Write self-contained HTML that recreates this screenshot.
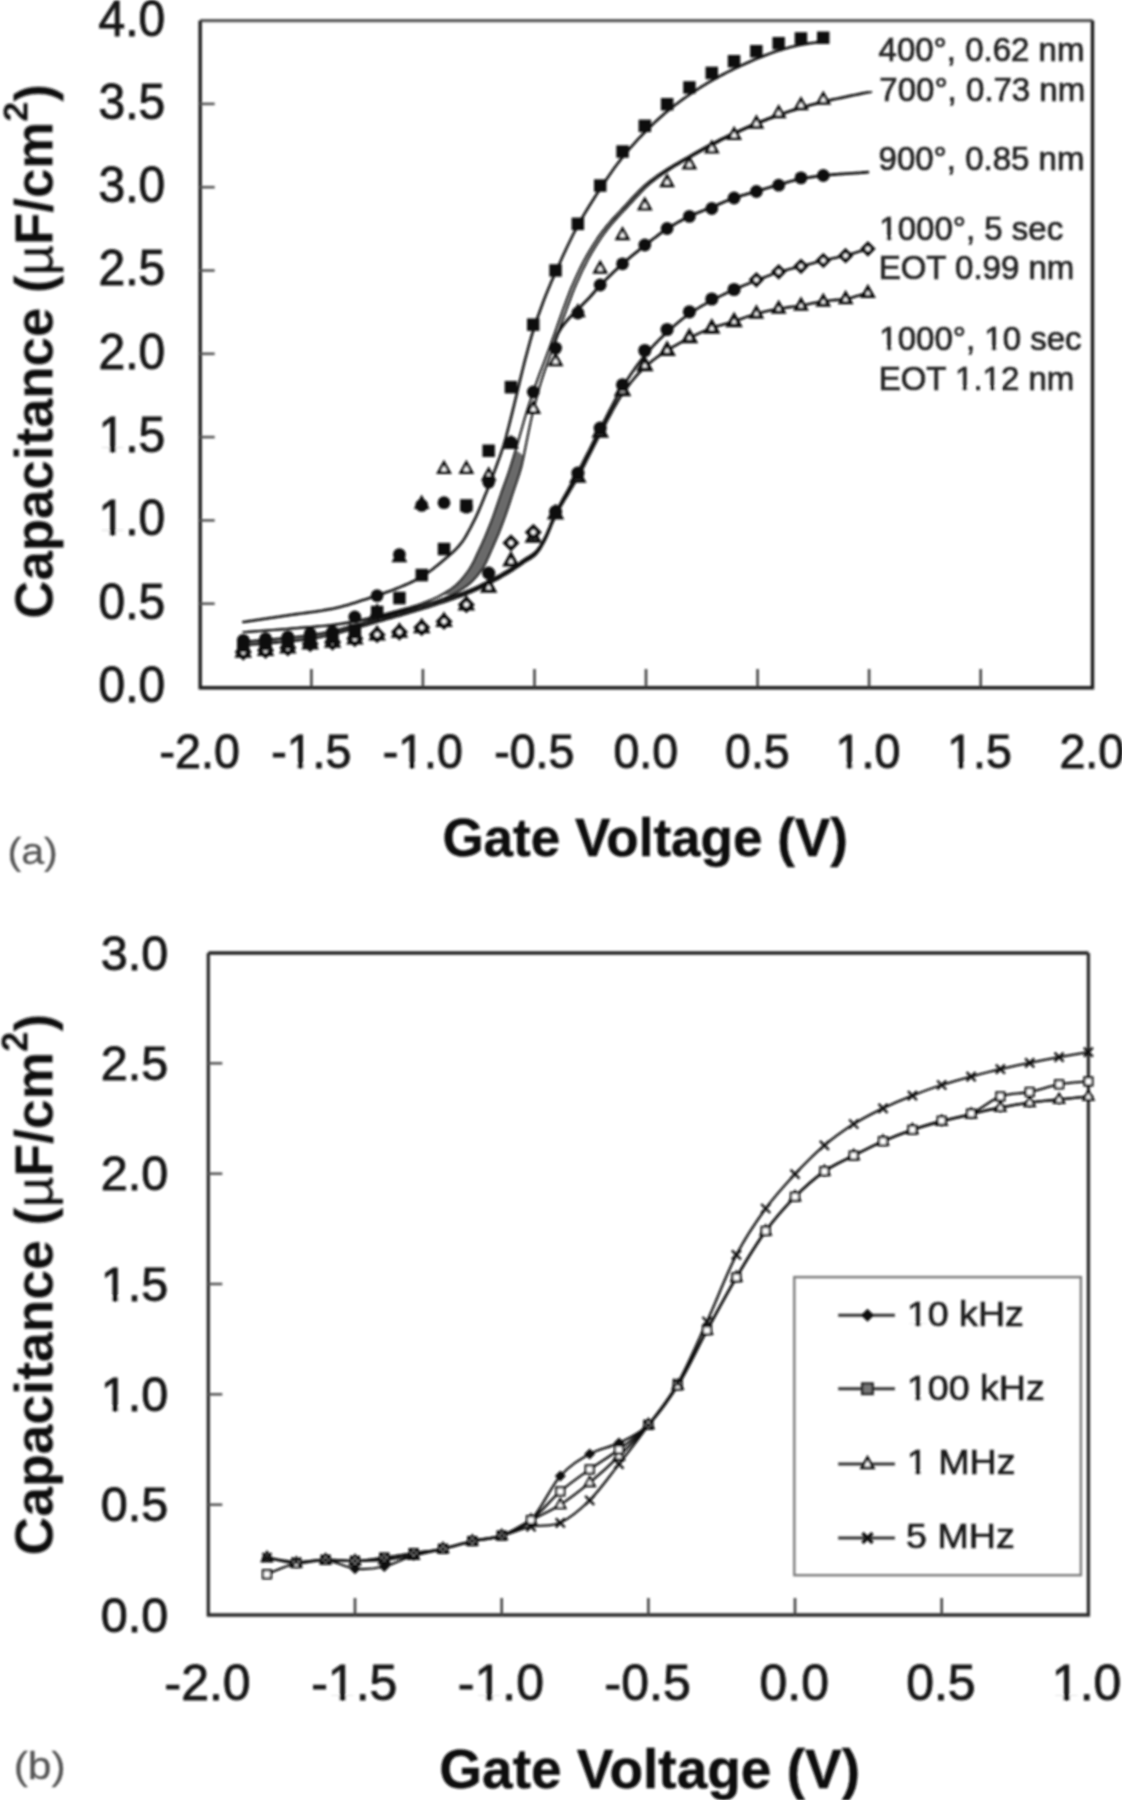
<!DOCTYPE html>
<html><head><meta charset="utf-8"><title>CV curves</title>
<style>html,body{margin:0;padding:0;background:#fff;overflow:hidden;width:1122px;height:1800px;}svg{display:block;}</style>
</head><body>
<svg width="1122" height="1800" viewBox="0 0 1122 1800">
<defs><filter id="bl" x="0" y="0" width="1122" height="1800" filterUnits="userSpaceOnUse"><feGaussianBlur stdDeviation="1"/></filter></defs>
<rect width="1122" height="1800" fill="#fff"/>
<g filter="url(#bl)">
<line x1="200.2" y1="20.6" x2="1092.5" y2="20.6" stroke="#5a5a5a" stroke-width="3.4"/>
<path d="M200.2,20.6 V687.7 H1092.5 V20.6" fill="none" stroke="#1c1c1c" stroke-width="3.4"/>
<line x1="200.2" y1="603.7" x2="214.7" y2="603.7" stroke="#555" stroke-width="2.6"/>
<line x1="200.2" y1="520.4" x2="214.7" y2="520.4" stroke="#555" stroke-width="2.6"/>
<line x1="200.2" y1="437.1" x2="214.7" y2="437.1" stroke="#555" stroke-width="2.6"/>
<line x1="200.2" y1="353.8" x2="214.7" y2="353.8" stroke="#555" stroke-width="2.6"/>
<line x1="200.2" y1="270.5" x2="214.7" y2="270.5" stroke="#555" stroke-width="2.6"/>
<line x1="200.2" y1="187.2" x2="214.7" y2="187.2" stroke="#555" stroke-width="2.6"/>
<line x1="200.2" y1="103.9" x2="214.7" y2="103.9" stroke="#555" stroke-width="2.6"/>
<line x1="311.4" y1="687.0" x2="311.4" y2="669.0" stroke="#444" stroke-width="2.6"/>
<line x1="422.9" y1="687.0" x2="422.9" y2="669.0" stroke="#444" stroke-width="2.6"/>
<line x1="534.5" y1="687.0" x2="534.5" y2="669.0" stroke="#444" stroke-width="2.6"/>
<line x1="646.0" y1="687.0" x2="646.0" y2="669.0" stroke="#444" stroke-width="2.6"/>
<line x1="757.6" y1="687.0" x2="757.6" y2="669.0" stroke="#444" stroke-width="2.6"/>
<line x1="869.1" y1="687.0" x2="869.1" y2="669.0" stroke="#444" stroke-width="2.6"/>
<line x1="980.7" y1="687.0" x2="980.7" y2="669.0" stroke="#444" stroke-width="2.6"/>
<text transform="translate(98.48,701.93) scale(0.970,1)" font-family="'Liberation Sans', Arial, Helvetica, sans-serif" font-size="49.5" font-weight="normal" fill="#151515" stroke="#151515" stroke-width="0.93">0.0</text>
<text transform="translate(98.48,618.63) scale(0.970,1)" font-family="'Liberation Sans', Arial, Helvetica, sans-serif" font-size="49.5" font-weight="normal" fill="#151515" stroke="#151515" stroke-width="0.93">0.5</text>
<text transform="translate(98.48,535.33) scale(0.970,1)" font-family="'Liberation Sans', Arial, Helvetica, sans-serif" font-size="49.5" font-weight="normal" fill="#151515" stroke="#151515" stroke-width="0.93">1.0</text>
<text transform="translate(98.48,452.03) scale(0.970,1)" font-family="'Liberation Sans', Arial, Helvetica, sans-serif" font-size="49.5" font-weight="normal" fill="#151515" stroke="#151515" stroke-width="0.93">1.5</text>
<text transform="translate(98.48,368.73) scale(0.970,1)" font-family="'Liberation Sans', Arial, Helvetica, sans-serif" font-size="49.5" font-weight="normal" fill="#151515" stroke="#151515" stroke-width="0.93">2.0</text>
<text transform="translate(98.48,285.43) scale(0.970,1)" font-family="'Liberation Sans', Arial, Helvetica, sans-serif" font-size="49.5" font-weight="normal" fill="#151515" stroke="#151515" stroke-width="0.93">2.5</text>
<text transform="translate(98.48,202.13) scale(0.970,1)" font-family="'Liberation Sans', Arial, Helvetica, sans-serif" font-size="49.5" font-weight="normal" fill="#151515" stroke="#151515" stroke-width="0.93">3.0</text>
<text transform="translate(98.48,118.82) scale(0.970,1)" font-family="'Liberation Sans', Arial, Helvetica, sans-serif" font-size="49.5" font-weight="normal" fill="#151515" stroke="#151515" stroke-width="0.93">3.5</text>
<text transform="translate(98.48,35.53) scale(0.970,1)" font-family="'Liberation Sans', Arial, Helvetica, sans-serif" font-size="49.5" font-weight="normal" fill="#151515" stroke="#151515" stroke-width="0.93">4.0</text>
<text transform="translate(159.61,767.98) scale(0.960,1)" font-family="'Liberation Sans', Arial, Helvetica, sans-serif" font-size="48.5" font-weight="normal" fill="#151515" stroke="#151515" stroke-width="0.94">-2.0</text>
<text transform="translate(271.15,767.98) scale(0.960,1)" font-family="'Liberation Sans', Arial, Helvetica, sans-serif" font-size="48.5" font-weight="normal" fill="#151515" stroke="#151515" stroke-width="0.94">-1.5</text>
<text transform="translate(382.70,767.98) scale(0.960,1)" font-family="'Liberation Sans', Arial, Helvetica, sans-serif" font-size="48.5" font-weight="normal" fill="#151515" stroke="#151515" stroke-width="0.94">-1.0</text>
<text transform="translate(494.24,767.98) scale(0.960,1)" font-family="'Liberation Sans', Arial, Helvetica, sans-serif" font-size="48.5" font-weight="normal" fill="#151515" stroke="#151515" stroke-width="0.94">-0.5</text>
<text transform="translate(613.47,767.98) scale(0.960,1)" font-family="'Liberation Sans', Arial, Helvetica, sans-serif" font-size="48.5" font-weight="normal" fill="#151515" stroke="#151515" stroke-width="0.94">0.0</text>
<text transform="translate(725.01,767.98) scale(0.960,1)" font-family="'Liberation Sans', Arial, Helvetica, sans-serif" font-size="48.5" font-weight="normal" fill="#151515" stroke="#151515" stroke-width="0.94">0.5</text>
<text transform="translate(835.62,767.98) scale(0.960,1)" font-family="'Liberation Sans', Arial, Helvetica, sans-serif" font-size="48.5" font-weight="normal" fill="#151515" stroke="#151515" stroke-width="0.94">1.0</text>
<text transform="translate(947.17,767.98) scale(0.960,1)" font-family="'Liberation Sans', Arial, Helvetica, sans-serif" font-size="48.5" font-weight="normal" fill="#151515" stroke="#151515" stroke-width="0.94">1.5</text>
<text transform="translate(1059.41,767.98) scale(0.960,1)" font-family="'Liberation Sans', Arial, Helvetica, sans-serif" font-size="48.5" font-weight="normal" fill="#151515" stroke="#151515" stroke-width="0.94">2.0</text>
<line x1="208.3" y1="953.0" x2="1088.4" y2="953.0" stroke="#222" stroke-width="3.3"/>
<path d="M208.3,953.0 V1615.0 H1088.4 V953.0" fill="none" stroke="#2a2a2a" stroke-width="3.3"/>
<line x1="208.3" y1="1504.7" x2="222.3" y2="1504.7" stroke="#555" stroke-width="2.6"/>
<line x1="208.3" y1="1394.3" x2="222.3" y2="1394.3" stroke="#555" stroke-width="2.6"/>
<line x1="208.3" y1="1284.0" x2="222.3" y2="1284.0" stroke="#555" stroke-width="2.6"/>
<line x1="208.3" y1="1173.7" x2="222.3" y2="1173.7" stroke="#555" stroke-width="2.6"/>
<line x1="208.3" y1="1063.3" x2="222.3" y2="1063.3" stroke="#555" stroke-width="2.6"/>
<line x1="355.0" y1="1615.0" x2="355.0" y2="1598.0" stroke="#444" stroke-width="2.6"/>
<line x1="501.7" y1="1615.0" x2="501.7" y2="1598.0" stroke="#444" stroke-width="2.6"/>
<line x1="648.4" y1="1615.0" x2="648.4" y2="1598.0" stroke="#444" stroke-width="2.6"/>
<line x1="795.0" y1="1615.0" x2="795.0" y2="1598.0" stroke="#444" stroke-width="2.6"/>
<line x1="941.7" y1="1615.0" x2="941.7" y2="1598.0" stroke="#444" stroke-width="2.6"/>
<text transform="translate(100.81,1631.55) scale(0.990,1)" font-family="'Liberation Sans', Arial, Helvetica, sans-serif" font-size="49" font-weight="normal" fill="#151515" stroke="#151515" stroke-width="0.91">0.0</text>
<text transform="translate(100.81,1521.22) scale(0.990,1)" font-family="'Liberation Sans', Arial, Helvetica, sans-serif" font-size="49" font-weight="normal" fill="#151515" stroke="#151515" stroke-width="0.91">0.5</text>
<text transform="translate(100.81,1410.88) scale(0.990,1)" font-family="'Liberation Sans', Arial, Helvetica, sans-serif" font-size="49" font-weight="normal" fill="#151515" stroke="#151515" stroke-width="0.91">1.0</text>
<text transform="translate(100.81,1300.55) scale(0.990,1)" font-family="'Liberation Sans', Arial, Helvetica, sans-serif" font-size="49" font-weight="normal" fill="#151515" stroke="#151515" stroke-width="0.91">1.5</text>
<text transform="translate(100.81,1190.22) scale(0.990,1)" font-family="'Liberation Sans', Arial, Helvetica, sans-serif" font-size="49" font-weight="normal" fill="#151515" stroke="#151515" stroke-width="0.91">2.0</text>
<text transform="translate(100.81,1079.88) scale(0.990,1)" font-family="'Liberation Sans', Arial, Helvetica, sans-serif" font-size="49" font-weight="normal" fill="#151515" stroke="#151515" stroke-width="0.91">2.5</text>
<text transform="translate(100.81,969.55) scale(0.990,1)" font-family="'Liberation Sans', Arial, Helvetica, sans-serif" font-size="49" font-weight="normal" fill="#151515" stroke="#151515" stroke-width="0.91">3.0</text>
<text transform="translate(164.50,1699.90)" font-family="'Liberation Sans', Arial, Helvetica, sans-serif" font-size="50" font-weight="normal" fill="#151515" stroke="#151515" stroke-width="0.90">-2.0</text>
<text transform="translate(311.18,1699.90)" font-family="'Liberation Sans', Arial, Helvetica, sans-serif" font-size="50" font-weight="normal" fill="#151515" stroke="#151515" stroke-width="0.90">-1.5</text>
<text transform="translate(457.87,1699.90)" font-family="'Liberation Sans', Arial, Helvetica, sans-serif" font-size="50" font-weight="normal" fill="#151515" stroke="#151515" stroke-width="0.90">-1.0</text>
<text transform="translate(604.55,1699.90)" font-family="'Liberation Sans', Arial, Helvetica, sans-serif" font-size="50" font-weight="normal" fill="#151515" stroke="#151515" stroke-width="0.90">-0.5</text>
<text transform="translate(759.48,1699.90)" font-family="'Liberation Sans', Arial, Helvetica, sans-serif" font-size="50" font-weight="normal" fill="#151515" stroke="#151515" stroke-width="0.90">0.0</text>
<text transform="translate(906.17,1699.90)" font-family="'Liberation Sans', Arial, Helvetica, sans-serif" font-size="50" font-weight="normal" fill="#151515" stroke="#151515" stroke-width="0.90">0.5</text>
<text transform="translate(1051.85,1699.90)" font-family="'Liberation Sans', Arial, Helvetica, sans-serif" font-size="50" font-weight="normal" fill="#151515" stroke="#151515" stroke-width="0.90">1.0</text>
<text transform="translate(52.5,618.7) rotate(-90)" font-family="'Liberation Sans', Arial, Helvetica, sans-serif" font-size="52.8" font-weight="bold" fill="#111">Capacitance (<tspan font-weight="normal" stroke-width="0.6">µ</tspan>F/cm<tspan font-size="35.9" dy="-24.8">2</tspan><tspan dy="24.8">)</tspan></text>
<text transform="translate(52.5,1555.4) rotate(-90)" font-family="'Liberation Sans', Arial, Helvetica, sans-serif" font-size="53.5" font-weight="bold" fill="#111">Capacitance (<tspan font-weight="normal" stroke-width="0.6">µ</tspan>F/cm<tspan font-size="36.4" dy="-25.1">2</tspan><tspan dy="25.1">)</tspan></text>
<text transform="translate(442.38,856.00)" font-family="'Liberation Sans', Arial, Helvetica, sans-serif" font-size="53" font-weight="bold" fill="#111" stroke="#111" stroke-width="0.40">Gate Voltage (V)</text>
<text transform="translate(439.30,1787.50)" font-family="'Liberation Sans', Arial, Helvetica, sans-serif" font-size="55" font-weight="bold" fill="#111" stroke="#111" stroke-width="0.40">Gate Voltage (V)</text>
<text transform="translate(7.43,863.50) scale(1.100,1)" font-family="'Liberation Sans', Arial, Helvetica, sans-serif" font-size="37.5" font-weight="normal" fill="#555" stroke="#555" stroke-width="0.27">(a)</text>
<text transform="translate(13.65,1778.50) scale(1.120,1)" font-family="'Liberation Sans', Arial, Helvetica, sans-serif" font-size="38" font-weight="normal" fill="#555" stroke="#555" stroke-width="0.27">(b)</text>
<text transform="translate(878.54,61.00)" font-family="'Liberation Sans', Arial, Helvetica, sans-serif" font-size="33" font-weight="normal" fill="#222" stroke="#222" stroke-width="0.70">400°, 0.62 nm</text>
<text transform="translate(879.35,101.00)" font-family="'Liberation Sans', Arial, Helvetica, sans-serif" font-size="33" font-weight="normal" fill="#222" stroke="#222" stroke-width="0.70">700°, 0.73 nm</text>
<text transform="translate(878.55,170.00)" font-family="'Liberation Sans', Arial, Helvetica, sans-serif" font-size="33" font-weight="normal" fill="#222" stroke="#222" stroke-width="0.70">900°, 0.85 nm</text>
<text transform="translate(879.36,239.70)" font-family="'Liberation Sans', Arial, Helvetica, sans-serif" font-size="33" font-weight="normal" fill="#222" stroke="#222" stroke-width="0.70">1000°, 5 sec</text>
<text transform="translate(878.66,278.60)" font-family="'Liberation Sans', Arial, Helvetica, sans-serif" font-size="33" font-weight="normal" fill="#222" stroke="#222" stroke-width="0.70">EOT 0.99 nm</text>
<text transform="translate(879.36,350.00)" font-family="'Liberation Sans', Arial, Helvetica, sans-serif" font-size="33" font-weight="normal" fill="#222" stroke="#222" stroke-width="0.70">1000°, 10 sec</text>
<text transform="translate(878.66,390.00)" font-family="'Liberation Sans', Arial, Helvetica, sans-serif" font-size="33" font-weight="normal" fill="#222" stroke="#222" stroke-width="0.70">EOT 1.12 nm</text>
<rect x="794.3" y="1277.1" width="286.6" height="298.1" fill="none" stroke="#7a7a7a" stroke-width="2.4"/>
<text transform="translate(906.79,1326.40) scale(1.075,1)" font-family="'Liberation Sans', Arial, Helvetica, sans-serif" font-size="35" font-weight="normal" fill="#1a1a1a" stroke="#1a1a1a" stroke-width="0.65">10 kHz</text>
<line x1="838.2" y1="1315.2" x2="894.9" y2="1315.2" stroke="#333" stroke-width="3"/>
<text transform="translate(906.79,1400.20) scale(1.075,1)" font-family="'Liberation Sans', Arial, Helvetica, sans-serif" font-size="35" font-weight="normal" fill="#1a1a1a" stroke="#1a1a1a" stroke-width="0.65">100 kHz</text>
<line x1="838.2" y1="1388.8" x2="894.9" y2="1388.8" stroke="#333" stroke-width="3"/>
<text transform="translate(906.79,1474.30) scale(1.075,1)" font-family="'Liberation Sans', Arial, Helvetica, sans-serif" font-size="35" font-weight="normal" fill="#1a1a1a" stroke="#1a1a1a" stroke-width="0.65">1 MHz</text>
<line x1="838.2" y1="1464.0" x2="894.9" y2="1464.0" stroke="#333" stroke-width="3"/>
<text transform="translate(906.10,1548.10) scale(1.075,1)" font-family="'Liberation Sans', Arial, Helvetica, sans-serif" font-size="35" font-weight="normal" fill="#1a1a1a" stroke="#1a1a1a" stroke-width="0.65">5 MHz</text>
<line x1="838.2" y1="1538.0" x2="894.9" y2="1538.0" stroke="#333" stroke-width="3"/>
<g fill="none" stroke="#111" stroke-linecap="round" stroke-linejoin="round">
<polygon points="442.4,594.4 444.6,593.1 446.9,591.7 449.1,590.3 451.4,588.7 453.6,587.0 455.9,585.2 458.2,583.0 460.5,580.6 462.8,578.0 465.1,575.1 467.4,572.0 469.7,568.7 471.9,565.0 474.2,560.7 476.4,556.0 478.6,551.2 480.7,546.8 482.7,542.3 484.8,537.7 486.8,532.9 488.8,527.9 490.9,522.7 493.4,516.0 495.9,508.9 498.4,501.5 500.9,494.2 502.9,488.6 504.9,483.0 507.0,477.3 509.0,471.5 511.0,465.4 513.3,457.9 515.7,450.0 523.8,455.8 521.7,465.4 519.3,473.6 517.0,480.8 514.7,487.5 512.4,494.2 510.0,501.6 507.6,508.9 505.2,516.0 502.7,522.7 500.4,528.9 498.0,534.8 495.6,540.4 493.2,545.9 490.9,551.2 488.7,556.0 486.6,560.8 484.5,565.1 482.4,568.7 480.2,571.7 478.0,574.6 475.9,577.1 473.7,579.5 471.5,581.7 469.4,583.7 467.2,585.4 465.0,587.0 462.7,588.6 460.4,590.0 458.2,591.4 455.9,592.7 453.6,593.9 451.3,595.1" fill="#6a6a6a" stroke="none"/>
<path d="M243.3,622.0 L245.5,621.7 L247.7,621.4 L250.0,621.0 L252.2,620.7 L254.4,620.4 L256.7,620.0 L258.9,619.7 L261.1,619.4 L263.3,619.0 L265.6,618.7 L267.8,618.4 L270.0,618.0 L272.3,617.7 L274.5,617.4 L276.7,617.0 L279.0,616.7 L281.2,616.4 L283.4,616.0 L285.7,615.7 L287.9,615.4 L290.1,615.0 L292.3,614.7 L294.6,614.4 L296.8,614.1 L299.0,613.8 L301.3,613.5 L303.5,613.2 L305.7,612.9 L308.0,612.6 L310.2,612.3 L312.4,612.0 L314.7,611.7 L316.9,611.4 L319.1,611.0 L321.3,610.7 L323.6,610.3 L325.8,609.9 L328.0,609.5 L330.3,609.1 L332.5,608.7 L334.7,608.2 L336.9,607.8 L339.0,607.2 L341.2,606.7 L343.4,606.1 L345.6,605.5 L347.8,604.9 L349.9,604.3 L352.1,603.6 L354.3,602.9 L356.5,602.2 L358.6,601.5 L360.8,600.8 L363.0,600.1 L365.2,599.4 L367.4,598.7 L369.5,598.0 L371.8,597.3 L374.1,596.5 L376.4,595.8 L378.7,595.0 L381.0,594.2 L383.3,593.4 L385.6,592.6 L387.9,591.8 L390.2,591.0 L392.5,590.1 L394.8,589.2 L397.1,588.3 L399.4,587.4 L401.7,586.4 L403.9,585.5 L406.1,584.5 L408.4,583.6 L410.6,582.5 L412.8,581.5 L415.0,580.4 L417.3,579.2 L419.5,578.0 L421.7,576.7 L424.1,575.3 L426.4,573.7 L428.8,572.0 L431.2,570.3 L433.5,568.5 L435.9,566.6 L438.2,564.7 L440.6,562.7 L442.9,560.7 L445.2,558.8 L447.4,557.0 L449.6,555.1 L451.9,553.1 L454.1,551.0 L456.3,548.8 L458.5,546.4 L460.8,543.7 L463.2,540.4 L465.7,536.5 L468.1,532.2 L470.6,527.6 L473.0,522.9 L475.4,518.2 L477.7,513.1 L480.0,507.7 L482.3,502.2 L484.6,496.6 L486.8,491.3 L488.9,485.8 L491.1,480.2 L493.2,474.5 L495.4,468.8 L497.4,463.2 L499.5,457.6 L501.5,451.8 L503.6,445.4 L505.9,437.5 L508.2,428.7 L510.5,419.6 L512.8,410.4 L515.2,400.5 L517.7,390.2 L520.1,379.9 L522.6,369.8 L525.0,360.1 L527.1,352.3 L529.2,344.7 L531.2,337.3 L533.3,330.5 L535.5,323.6 L537.7,317.0 L540.0,310.7 L542.2,304.7 L544.4,298.8 L546.7,293.1 L548.9,287.7 L551.1,282.4 L553.4,277.2 L555.6,272.2 L557.8,267.2 L560.1,262.2 L562.3,257.3 L564.5,252.5 L566.7,247.7 L569.0,243.0 L571.2,238.5 L573.4,234.0 L575.7,229.7 L577.9,225.5 L580.1,221.5 L582.4,217.5 L584.6,213.7 L586.8,210.0 L589.1,206.3 L591.3,202.7 L593.5,199.2 L595.7,195.7 L598.0,192.3 L600.2,188.9 L602.4,185.5 L604.7,182.1 L606.9,178.8 L609.1,175.5 L611.4,172.3 L613.6,169.1 L615.8,166.0 L618.1,163.0 L620.3,160.1 L622.5,157.2 L624.7,154.5 L627.0,151.8 L629.2,149.1 L631.4,146.6 L633.7,144.1 L635.9,141.6 L638.1,139.2 L640.4,136.8 L642.6,134.5 L644.8,132.2 L647.1,130.0 L649.3,127.7 L651.5,125.6 L653.7,123.4 L656.0,121.3 L658.2,119.2 L660.4,117.2 L662.7,115.2 L664.9,113.3 L667.1,111.4 L669.4,109.6 L671.6,107.8 L673.8,106.0 L676.1,104.3 L678.3,102.7 L680.5,101.0 L682.7,99.4 L685.0,97.8 L687.2,96.3 L689.4,94.7 L691.7,93.2 L693.9,91.7 L696.1,90.2 L698.4,88.8 L700.6,87.3 L702.8,85.9 L705.1,84.6 L707.3,83.2 L709.5,81.9 L711.8,80.6 L714.0,79.3 L716.2,78.1 L718.4,76.9 L720.7,75.7 L722.9,74.5 L725.1,73.3 L727.4,72.2 L729.6,71.1 L731.8,70.0 L734.1,68.9 L736.3,67.8 L738.5,66.8 L740.8,65.7 L743.0,64.7 L745.2,63.7 L747.4,62.7 L749.7,61.7 L751.9,60.8 L754.1,59.8 L756.4,58.9 L758.6,58.0 L760.8,57.1 L763.1,56.2 L765.3,55.3 L767.5,54.5 L769.8,53.6 L772.0,52.8 L774.2,52.0 L776.4,51.3 L778.7,50.6 L780.9,49.9 L783.1,49.2 L785.4,48.6 L787.6,48.0 L789.8,47.3 L792.1,46.8 L794.3,46.2 L796.5,45.7 L798.8,45.2 L801.0,44.8 L803.2,44.4 L805.4,44.0 L807.7,43.6 L809.9,43.3 L812.1,43.0 L814.4,42.7 L816.6,42.4 L818.8,42.1 L821.1,41.8 L823.3,41.4" stroke-width="2.6"/>
<path d="M243.3,642.0 L245.5,641.8 L247.7,641.6 L250.0,641.4 L252.2,641.2 L254.4,641.0 L256.7,640.8 L258.9,640.6 L261.1,640.4 L263.3,640.2 L265.6,640.0 L267.8,639.8 L270.0,639.6 L272.3,639.4 L274.5,639.2 L276.7,639.0 L279.0,638.8 L281.2,638.6 L283.4,638.4 L285.7,638.2 L287.9,638.0 L290.1,637.8 L292.3,637.5 L294.6,637.3 L296.8,637.0 L299.0,636.8 L301.3,636.5 L303.5,636.2 L305.7,636.0 L308.0,635.7 L310.2,635.4 L312.4,635.0 L314.7,634.7 L316.9,634.3 L319.2,633.9 L321.5,633.5 L323.7,633.0 L326.0,632.6 L328.2,632.1 L330.5,631.6 L332.7,631.1 L335.0,630.5 L337.2,630.0 L339.5,629.4 L341.7,628.9 L344.0,628.3 L346.2,627.7 L348.5,627.1 L350.7,626.5 L353.0,625.9 L355.2,625.2 L357.5,624.6 L359.7,624.0 L362.0,623.4 L364.2,622.7 L366.5,622.1 L368.7,621.4 L371.0,620.8 L373.2,620.2 L375.5,619.6 L377.7,618.9 L380.0,618.3 L382.3,617.7 L384.5,617.1 L386.7,616.5 L388.9,615.9 L391.2,615.2 L393.4,614.6 L395.6,614.0 L397.9,613.3 L400.1,612.7 L402.3,612.0 L404.6,611.4 L406.8,610.7 L409.0,610.0 L411.3,609.4 L413.5,608.7 L415.7,608.0 L417.9,607.3 L420.2,606.6 L422.4,605.9 L424.6,605.2 L426.9,604.5 L429.1,603.8 L431.3,603.1 L433.6,602.4 L435.8,601.7 L438.0,601.0 L440.2,600.3 L442.4,599.6 L444.7,598.9 L446.9,598.2 L449.1,597.5 L451.3,596.7 L453.5,596.0 L455.7,595.3 L458.0,594.5 L460.2,593.7 L462.4,592.9 L464.6,592.1 L466.8,591.3 L469.0,590.4 L471.3,589.5 L473.4,588.6 L475.6,587.7 L477.8,586.7 L480.0,585.6 L482.1,584.5 L484.3,583.4 L486.5,582.3 L488.7,581.2 L490.9,580.1 L493.1,578.9 L495.4,577.7 L497.6,576.5 L499.8,575.3 L502.0,574.0 L504.3,572.7 L506.5,571.4 L508.7,570.1 L511.0,568.7 L513.2,567.3 L515.4,565.8 L517.7,564.2 L519.9,562.7 L522.1,561.1 L524.4,559.6 L526.6,558.1 L528.8,556.8 L531.1,555.5 L533.3,553.9 L535.5,552.1 L537.7,549.5 L540.0,546.4 L542.2,542.7 L544.4,538.7 L546.9,533.5 L549.5,527.4 L552.0,521.1 L554.5,515.4 L556.6,511.0 L558.7,506.9 L560.9,502.8 L563.0,498.9 L565.1,495.1 L567.3,491.3 L569.4,487.5 L571.5,483.7 L573.6,479.9 L575.8,476.1 L577.9,472.1 L580.1,467.8 L582.4,463.5 L584.6,459.2 L586.8,454.8 L589.1,450.5 L591.3,446.1 L593.5,441.7 L595.7,437.4 L598.0,433.0 L600.2,428.8 L602.4,424.5 L604.7,420.2 L606.9,415.8 L609.1,411.4 L611.4,407.1 L613.6,402.9 L615.8,398.7 L618.1,394.7 L620.3,390.8 L622.5,387.1 L624.7,383.6 L627.0,380.1 L629.2,376.7 L631.4,373.4 L633.7,370.2 L635.9,367.0 L638.1,364.0 L640.4,361.0 L642.6,358.2 L644.8,355.5 L647.1,352.8 L649.3,350.3 L651.5,347.8 L653.7,345.4 L656.0,343.0 L658.2,340.7 L660.4,338.5 L662.7,336.3 L664.9,334.2 L667.1,332.1 L669.4,330.1 L671.6,328.1 L673.8,326.1 L676.1,324.2 L678.3,322.3 L680.5,320.5 L682.7,318.7 L685.0,317.0 L687.2,315.4 L689.4,313.8 L691.7,312.3 L693.9,310.8 L696.1,309.4 L698.4,308.0 L700.6,306.7 L702.8,305.4 L705.1,304.2 L707.3,302.9 L709.5,301.7 L711.8,300.5 L714.0,299.3 L716.2,298.1 L718.4,297.0 L720.7,295.9 L722.9,294.8 L725.1,293.8 L727.4,292.7 L729.6,291.7 L731.8,290.7 L734.1,289.7 L736.3,288.7 L738.5,287.7 L740.8,286.8 L743.0,285.8 L745.2,284.9 L747.4,284.0 L749.7,283.1 L751.9,282.2 L754.1,281.4 L756.4,280.5 L758.6,279.6 L760.8,278.7 L763.1,277.8 L765.3,277.0 L767.5,276.1 L769.8,275.2 L772.0,274.4 L774.2,273.6 L776.4,272.9 L778.7,272.2 L780.9,271.5 L783.1,270.9 L785.4,270.3 L787.6,269.7 L789.8,269.1 L792.1,268.6 L794.3,268.0 L796.5,267.5 L798.8,266.9 L801.0,266.3 L803.2,265.7 L805.4,265.2 L807.7,264.6 L809.9,264.0 L812.1,263.4 L814.4,262.8 L816.6,262.2 L818.8,261.6 L821.1,261.1 L823.3,260.5 L825.5,260.0 L827.8,259.5 L830.0,259.0 L832.2,258.5 L834.4,258.0 L836.7,257.6 L838.9,257.1 L841.1,256.6 L843.4,256.1 L845.6,255.5 L847.8,254.9 L850.1,254.3 L852.3,253.6 L854.5,253.0 L856.8,252.3 L859.0,251.6 L861.2,250.9 L863.5,250.2 L865.7,249.5 L867.9,248.8" stroke-width="2.6"/>
<path d="M243.3,645.4 L245.5,645.1 L247.7,644.9 L250.0,644.7 L252.2,644.5 L254.4,644.3 L256.7,644.1 L258.9,643.9 L261.1,643.7 L263.3,643.5 L265.6,643.3 L267.8,643.2 L270.0,643.0 L272.3,642.8 L274.5,642.6 L276.7,642.4 L279.0,642.2 L281.2,642.0 L283.4,641.8 L285.7,641.6 L287.9,641.3 L290.1,641.1 L292.3,640.9 L294.6,640.6 L296.8,640.4 L299.0,640.1 L301.3,639.9 L303.5,639.6 L305.7,639.3 L308.0,639.0 L310.2,638.7 L312.4,638.4 L314.7,638.0 L316.9,637.6 L319.2,637.2 L321.5,636.7 L323.7,636.3 L326.0,635.8 L328.2,635.3 L330.5,634.8 L332.7,634.2 L335.0,633.7 L337.2,633.1 L339.5,632.5 L341.7,631.9 L344.0,631.3 L346.2,630.7 L348.5,630.1 L350.7,629.4 L353.0,628.8 L355.2,628.2 L357.5,627.5 L359.7,626.8 L362.0,626.2 L364.2,625.5 L366.5,624.9 L368.7,624.2 L371.0,623.6 L373.2,622.9 L375.5,622.3 L377.7,621.6 L380.0,621.0 L382.3,620.4 L384.5,619.7 L386.7,619.1 L388.9,618.5 L391.2,617.9 L393.4,617.3 L395.6,616.6 L397.9,616.0 L400.1,615.4 L402.3,614.7 L404.6,614.1 L406.8,613.4 L409.0,612.8 L411.3,612.1 L413.5,611.5 L415.7,610.8 L417.9,610.1 L420.2,609.4 L422.4,608.8 L424.6,608.1 L426.9,607.4 L429.1,606.7 L431.3,606.0 L433.6,605.3 L435.8,604.5 L438.0,603.8 L440.2,603.1 L442.4,602.4 L444.7,601.7 L446.9,600.9 L449.1,600.2 L451.3,599.4 L453.5,598.7 L455.7,597.9 L458.0,597.1 L460.2,596.3 L462.4,595.5 L464.6,594.7 L466.8,593.8 L469.0,592.9 L471.3,592.0 L473.4,591.1 L475.6,590.1 L477.8,589.1 L480.0,588.1 L482.1,587.0 L484.3,585.9 L486.5,584.8 L488.7,583.7 L490.9,582.6 L493.1,581.4 L495.4,580.2 L497.6,579.0 L499.8,577.8 L502.0,576.5 L504.3,575.2 L506.5,573.9 L508.7,572.6 L511.0,571.2 L513.2,569.8 L515.4,568.3 L517.7,566.7 L519.9,565.2 L522.1,563.6 L524.4,562.0 L526.6,560.6 L528.8,559.3 L531.1,558.0 L533.3,556.4 L535.5,554.6 L537.7,552.0 L540.0,548.9 L542.2,545.2 L544.4,541.2 L546.9,536.0 L549.5,529.8 L552.0,523.6 L554.5,517.9 L556.6,513.7 L558.7,509.7 L560.9,505.9 L563.0,502.3 L565.1,498.7 L567.3,495.2 L569.4,491.7 L571.5,488.2 L573.6,484.6 L575.8,480.9 L577.9,477.1 L580.1,472.9 L582.4,468.7 L584.6,464.3 L586.8,459.9 L589.1,455.5 L591.3,451.1 L593.5,446.7 L595.7,442.3 L598.0,438.0 L600.2,433.8 L602.4,429.6 L604.7,425.3 L606.9,421.0 L609.1,416.8 L611.4,412.6 L613.6,408.5 L615.8,404.5 L618.1,400.7 L620.3,397.1 L622.5,393.8 L624.7,390.6 L627.0,387.6 L629.2,384.6 L631.4,381.8 L633.7,379.0 L635.9,376.4 L638.1,373.9 L640.4,371.5 L642.6,369.2 L644.8,367.1 L647.1,365.1 L649.3,363.2 L651.5,361.4 L653.7,359.7 L656.0,358.0 L658.2,356.4 L660.4,354.9 L662.7,353.4 L664.9,351.9 L667.1,350.5 L669.4,349.1 L671.6,347.7 L673.8,346.4 L676.1,345.1 L678.3,343.8 L680.5,342.6 L682.7,341.4 L685.0,340.2 L687.2,339.1 L689.4,338.0 L691.7,336.9 L693.9,335.8 L696.1,334.7 L698.4,333.6 L700.6,332.6 L702.8,331.6 L705.1,330.6 L707.3,329.7 L709.5,328.8 L711.8,328.0 L714.0,327.2 L716.2,326.5 L718.4,325.8 L720.7,325.2 L722.9,324.5 L725.1,323.9 L727.4,323.3 L729.6,322.7 L731.8,322.0 L734.1,321.3 L736.3,320.6 L738.5,319.8 L740.8,319.0 L743.0,318.2 L745.2,317.4 L747.4,316.6 L749.7,315.9 L751.9,315.1 L754.1,314.4 L756.4,313.8 L758.6,313.2 L760.8,312.7 L763.1,312.1 L765.3,311.6 L767.5,311.1 L769.8,310.6 L772.0,310.1 L774.2,309.7 L776.4,309.2 L778.7,308.8 L780.9,308.4 L783.1,308.1 L785.4,307.7 L787.6,307.4 L789.8,307.1 L792.1,306.8 L794.3,306.5 L796.5,306.2 L798.8,305.8 L801.0,305.5 L803.2,305.1 L805.4,304.7 L807.7,304.2 L809.9,303.8 L812.1,303.3 L814.4,302.9 L816.6,302.4 L818.8,302.0 L821.1,301.7 L823.3,301.3 L825.5,301.0 L827.8,300.8 L830.0,300.5 L832.2,300.3 L834.4,300.1 L836.7,299.9 L838.9,299.7 L841.1,299.4 L843.4,299.1 L845.6,298.8 L847.8,298.4 L850.1,297.9 L852.3,297.4 L854.5,296.8 L856.8,296.1 L859.0,295.5 L861.2,294.8 L863.5,294.1 L865.7,293.4 L867.9,292.8" stroke-width="2.6"/>
<path d="M553.8,345.5 L555.8,339.2 L557.8,333.8 L559.8,330.2 L561.7,327.2 L563.7,324.6 L565.6,322.1 L567.9,319.5 L570.1,317.1 L572.3,314.9 L574.6,312.7 L576.8,310.5 L579.2,308.0 L581.7,305.5 L584.1,303.1 L586.6,300.6 L589.1,298.0 L591.3,295.5 L593.5,293.0 L595.7,290.4 L598.0,287.9 L600.2,285.5 L602.4,283.2 L604.7,280.9 L606.9,278.6 L609.1,276.4 L611.4,274.2 L613.6,272.1 L615.8,270.0 L618.1,267.9 L620.3,265.8 L622.5,263.8 L624.7,261.9 L627.0,259.9 L629.2,258.1 L631.4,256.2 L633.7,254.4 L635.9,252.6 L638.1,250.8 L640.4,249.0 L642.6,247.3 L644.8,245.5 L647.1,243.8 L649.3,242.0 L651.5,240.2 L653.7,238.5 L656.0,236.8 L658.2,235.1 L660.4,233.4 L662.7,231.9 L664.9,230.3 L667.1,228.9 L669.4,227.4 L671.6,226.1 L673.8,224.7 L676.1,223.4 L678.3,222.1 L680.5,220.9 L682.7,219.7 L685.0,218.6 L687.2,217.4 L689.4,216.4 L691.7,215.3 L693.9,214.3 L696.1,213.4 L698.4,212.5 L700.6,211.6 L702.8,210.7 L705.1,209.9 L707.3,209.0 L709.5,208.1 L711.8,207.2 L714.0,206.3 L716.2,205.3 L718.4,204.4 L720.7,203.4 L722.9,202.4 L725.1,201.5 L727.4,200.6 L729.6,199.7 L731.8,198.8 L734.1,198.0 L736.3,197.3 L738.5,196.6 L740.8,195.9 L743.0,195.2 L745.2,194.6 L747.4,193.9 L749.7,193.3 L751.9,192.7 L754.1,192.0 L756.4,191.4 L758.6,190.7 L760.8,190.0 L763.1,189.3 L765.3,188.7 L767.5,188.0 L769.8,187.3 L772.0,186.6 L774.2,186.0 L776.4,185.3 L778.7,184.7 L780.9,184.1 L783.1,183.4 L785.4,182.8 L787.6,182.2 L789.8,181.5 L792.1,180.9 L794.3,180.4 L796.5,179.8 L798.8,179.3 L801.0,178.9 L803.2,178.5 L805.4,178.1 L807.7,177.7 L809.9,177.3 L812.1,177.0 L814.4,176.6 L816.6,176.3 L818.8,176.0 L821.1,175.8 L823.3,175.5 L825.5,175.3 L827.8,175.1 L830.0,174.9 L832.2,174.7 L834.4,174.5 L836.7,174.4 L838.9,174.2 L841.1,174.0 L843.4,173.9 L845.6,173.7 L847.8,173.6 L850.1,173.4 L852.3,173.3 L854.5,173.1 L856.8,173.0 L859.0,172.8 L861.2,172.7 L863.5,172.5 L865.7,172.4 L867.9,172.2" stroke-width="2.8"/>
<path d="M243.3,632.0 L245.5,631.9 L247.7,631.7 L250.0,631.5 L252.2,631.4 L254.4,631.2 L256.7,631.0 L258.9,630.9 L261.1,630.7 L263.3,630.6 L265.6,630.4 L267.8,630.2 L270.0,630.1 L272.3,629.9 L274.5,629.7 L276.7,629.6 L279.0,629.4 L281.2,629.2 L283.4,629.0 L285.7,628.9 L287.9,628.7 L290.1,628.5 L292.3,628.3 L294.6,628.2 L296.8,628.0 L299.0,627.8 L301.3,627.6 L303.5,627.5 L305.7,627.3 L308.0,627.1 L310.2,626.9 L312.4,626.7 L314.7,626.5 L316.9,626.3 L319.1,626.1 L321.3,625.9 L323.6,625.7 L325.8,625.5 L328.0,625.2 L330.3,625.0 L332.5,624.7 L334.7,624.4 L337.0,624.1 L339.2,623.8 L341.4,623.4 L343.7,623.1 L345.9,622.7 L348.1,622.3 L350.3,621.9 L352.6,621.4 L354.8,621.0 L357.0,620.5 L359.3,620.1 L361.5,619.6 L363.7,619.2 L366.0,618.7 L368.3,618.2 L370.5,617.7 L372.8,617.1 L375.1,616.6 L377.4,616.0 L379.7,615.4 L382.0,614.8 L384.3,614.2 L386.6,613.6 L388.9,613.0 L391.2,612.4 L393.4,611.8 L395.6,611.2 L397.8,610.6 L400.0,610.0 L402.3,609.4 L404.5,608.8 L406.7,608.2 L408.9,607.6 L411.1,606.9 L413.3,606.3 L415.6,605.6 L417.8,604.9 L420.0,604.1 L422.2,603.4 L424.4,602.5 L426.6,601.7 L428.9,600.8 L431.1,599.9 L433.4,598.9 L435.6,597.8 L437.9,596.8 L440.1,595.6 L442.4,594.4 L444.6,593.1 L446.9,591.7 L449.1,590.3 L451.4,588.7 L453.6,587.0 L455.9,585.2 L458.2,583.0 L460.5,580.6 L462.8,578.0 L465.1,575.1 L467.4,572.0 L469.7,568.7 L471.9,565.0 L474.2,560.7 L476.4,556.0 L478.6,551.2 L480.7,546.8 L482.7,542.3 L484.8,537.7 L486.8,532.9 L488.8,527.9 L490.9,522.7 L493.4,516.0 L495.9,508.9 L498.4,501.5 L500.9,494.2 L502.9,488.6 L504.9,483.0 L507.0,477.3 L509.0,471.5 L511.0,465.4 L513.3,457.9 L515.7,450.0 L518.0,441.9 L520.3,433.8 L522.4,426.5 L524.5,419.1 L526.6,412.1 L528.9,404.7 L531.3,397.5 L533.6,390.5 L536.0,383.8 L538.2,377.6 L540.4,371.7 L542.7,365.9 L544.9,360.0 L547.3,353.5 L549.7,347.0 L552.1,340.4 L554.5,333.8 L556.5,328.0 L558.6,322.1 L560.7,316.2 L562.7,310.5 L564.8,304.9 L566.8,299.4 L568.9,293.9 L570.9,288.7 L573.0,283.8 L575.2,278.8 L577.5,273.9 L579.7,269.2 L581.9,264.7 L584.1,260.4 L586.4,256.3 L588.7,252.3 L591.0,248.5 L593.3,244.7 L595.6,241.2 L597.8,237.7 L600.1,234.5 L602.4,231.3 L604.6,228.6 L606.7,225.9 L608.9,223.4 L611.0,220.9 L613.1,218.5 L615.3,216.2 L617.4,213.9 L619.6,211.6 L621.7,209.3 L623.9,207.0 L626.1,204.6 L628.3,202.2 L630.5,199.8 L632.8,197.3 L635.0,195.0 L637.2,192.6 L639.5,190.3 L641.7,188.1 L643.9,186.0 L646.2,184.1 L648.4,182.2 L650.7,180.4 L653.0,178.7 L655.2,177.0 L657.5,175.4 L659.8,173.8 L662.1,172.3 L664.3,170.8 L666.6,169.3 L668.9,167.9 L671.2,166.5 L673.5,165.2 L675.7,163.8 L678.0,162.5 L680.3,161.2 L682.6,159.9 L684.8,158.6 L687.1,157.3 L689.4,156.0 L691.7,154.7 L693.9,153.4 L696.1,152.2 L698.4,150.9 L700.6,149.7 L702.8,148.5 L705.1,147.2 L707.3,146.0 L709.5,144.8 L711.8,143.7 L714.0,142.5 L716.2,141.3 L718.4,140.2 L720.7,139.0 L722.9,137.9 L725.1,136.8 L727.4,135.7 L729.6,134.7 L731.8,133.6 L734.1,132.6 L736.3,131.6 L738.5,130.6 L740.8,129.6 L743.0,128.6 L745.2,127.6 L747.4,126.7 L749.7,125.7 L751.9,124.8 L754.1,123.8 L756.4,122.9 L758.6,122.0 L760.8,121.1 L763.1,120.2 L765.3,119.4 L767.5,118.5 L769.8,117.7 L772.0,116.8 L774.2,116.0 L776.4,115.2 L778.7,114.4 L780.9,113.6 L783.1,112.9 L785.4,112.1 L787.6,111.4 L789.8,110.7 L792.1,110.0 L794.3,109.3 L796.5,108.6 L798.8,108.0 L801.0,107.3 L803.2,106.7 L805.4,106.0 L807.7,105.4 L809.9,104.8 L812.1,104.2 L814.4,103.6 L816.6,103.1 L818.8,102.5 L821.1,101.9 L823.3,101.4 L825.5,100.9 L827.8,100.3 L830.0,99.8 L832.2,99.3 L834.4,98.8 L836.7,98.4 L838.9,97.9 L841.1,97.4 L843.4,96.9 L845.6,96.5 L847.8,96.0 L850.1,95.6 L852.3,95.1 L854.5,94.7 L856.8,94.2 L859.0,93.8 L861.2,93.3 L863.5,92.8 L865.7,92.4 L867.9,91.9" stroke-width="2.0"/>
<path d="M246.6,632.0 L248.8,631.9 L251.1,631.7 L253.3,631.5 L255.5,631.4 L257.8,631.2 L260.0,631.0 L262.2,630.9 L264.5,630.7 L266.7,630.6 L268.9,630.4 L271.2,630.2 L273.4,630.1 L275.6,629.9 L277.9,629.7 L280.1,629.6 L282.4,629.4 L284.6,629.2 L286.8,629.0 L289.1,628.9 L291.3,628.7 L293.5,628.5 L295.8,628.3 L298.0,628.2 L300.2,628.0 L302.5,627.8 L304.7,627.6 L306.9,627.5 L309.2,627.3 L311.4,627.1 L313.6,626.9 L315.9,626.7 L318.1,626.5 L320.3,626.3 L322.6,626.1 L324.8,625.9 L327.0,625.7 L329.3,625.4 L331.5,625.2 L333.8,625.0 L336.0,624.7 L338.3,624.4 L340.5,624.1 L342.8,623.8 L345.1,623.4 L347.3,623.0 L349.6,622.7 L351.8,622.2 L354.1,621.8 L356.4,621.4 L358.6,621.0 L360.9,620.5 L363.2,620.1 L365.4,619.6 L367.7,619.2 L370.0,618.7 L372.2,618.2 L374.5,617.8 L376.7,617.3 L378.9,616.8 L381.2,616.2 L383.4,615.7 L385.7,615.2 L387.9,614.6 L390.2,614.1 L392.4,613.5 L394.6,612.9 L396.9,612.4 L399.1,611.8 L401.4,611.2 L403.6,610.7 L405.9,610.1 L408.2,609.6 L410.4,609.0 L412.7,608.4 L414.9,607.8 L417.2,607.2 L419.4,606.6 L421.7,606.0 L423.9,605.4 L426.2,604.7 L428.4,604.0 L430.7,603.3 L433.0,602.5 L435.2,601.7 L437.5,600.9 L439.8,600.0 L442.1,599.1 L444.4,598.2 L446.7,597.2 L449.0,596.2 L451.3,595.1 L453.6,593.9 L455.9,592.7 L458.2,591.4 L460.4,590.0 L462.7,588.6 L465.0,587.0 L467.2,585.4 L469.4,583.7 L471.5,581.7 L473.7,579.5 L475.9,577.1 L478.0,574.6 L480.2,571.7 L482.4,568.7 L484.5,565.1 L486.6,560.8 L488.7,556.0 L490.9,551.2 L493.2,545.9 L495.6,540.4 L498.0,534.8 L500.4,528.9 L502.7,522.7 L505.2,516.0 L507.6,508.9 L510.0,501.6 L512.4,494.2 L514.7,487.5 L517.0,480.8 L519.3,473.6 L521.7,465.4 L523.8,455.8 L526.0,444.6 L528.2,433.8 L530.5,422.6 L532.9,412.1 L535.5,402.0 L538.0,392.6 L540.5,383.8 L542.5,377.4 L544.5,371.4 L546.5,365.7 L548.5,360.0 L550.8,353.3 L553.1,346.8 L555.5,340.3 L557.8,333.8 L559.9,327.9 L561.9,322.0 L564.0,316.2 L566.1,310.5 L568.1,304.9 L570.2,299.4 L572.2,293.9 L574.3,288.7 L576.3,283.8 L578.6,278.8 L580.8,273.9 L583.0,269.2 L585.3,264.7 L587.5,260.4 L589.7,256.3 L592.0,252.3 L594.3,248.5 L596.6,244.7 L598.9,241.2 L601.2,237.7 L603.5,234.5 L605.8,231.3 L607.9,228.6 L610.1,225.9 L612.2,223.4 L614.4,220.9 L616.5,218.5 L618.6,216.2 L620.8,213.9 L622.9,211.6 L625.1,209.3 L627.2,207.0 L629.4,204.6 L631.7,202.2 L633.9,199.8 L636.1,197.3 L638.4,195.0 L640.6,192.6 L642.8,190.3 L645.0,188.1 L647.3,186.0 L649.5,184.1 L651.7,182.2 L654.0,180.4 L656.3,178.7 L658.6,177.0 L660.9,175.4 L663.1,173.8 L665.4,172.3 L667.7,170.8 L670.0,169.3 L672.2,167.9 L674.5,166.5 L676.8,165.2 L679.1,163.8 L681.4,162.5 L683.6,161.2 L685.9,159.9 L688.2,158.6 L690.5,157.3 L692.7,156.0 L695.0,154.7 L697.3,153.4 L699.5,152.2 L701.7,150.9 L703.9,149.7 L706.2,148.5 L708.4,147.2 L710.6,146.0 L712.9,144.8 L715.1,143.7 L717.3,142.5 L719.6,141.3 L721.8,140.2 L724.0,139.0 L726.3,137.9 L728.5,136.8 L730.7,135.7 L732.9,134.7 L735.2,133.6 L737.4,132.6 L739.6,131.6 L741.9,130.6 L744.1,129.6 L746.3,128.6 L748.6,127.6 L750.8,126.7 L753.0,125.7 L755.3,124.8 L757.5,123.8 L759.7,122.9 L761.9,122.0 L764.2,121.1 L766.4,120.2 L768.6,119.4 L770.9,118.5 L773.1,117.7 L775.3,116.8 L777.6,116.0 L779.8,115.2 L782.0,114.4 L784.3,113.6 L786.5,112.9 L788.7,112.1 L790.9,111.4 L793.2,110.7 L795.4,110.0 L797.6,109.3 L799.9,108.6 L802.1,108.0 L804.3,107.3 L806.6,106.7 L808.8,106.0 L811.0,105.4 L813.3,104.8 L815.5,104.2 L817.7,103.6 L819.9,103.1 L822.2,102.5 L824.4,101.9 L826.6,101.4 L828.9,100.9 L831.1,100.3 L833.3,99.8 L835.6,99.3 L837.8,98.8 L840.0,98.4 L842.3,97.9 L844.5,97.4 L846.7,96.9 L849.0,96.5 L851.2,96.0 L853.4,95.6 L855.6,95.1 L857.9,94.7 L860.1,94.2 L862.3,93.8 L864.6,93.3 L866.8,92.8 L869.0,92.4 L871.3,91.9" stroke-width="2.0"/>
</g>
<path d="M243.3,645.6 L249.0,655.9 L237.5,655.9 Z" fill="#fff" stroke="#111" stroke-width="3.6" stroke-linejoin="miter"/>
<path d="M265.6,643.9 L271.3,654.3 L259.8,654.3 Z" fill="#fff" stroke="#111" stroke-width="3.6" stroke-linejoin="miter"/>
<path d="M287.9,641.4 L293.6,651.8 L282.1,651.8 Z" fill="#fff" stroke="#111" stroke-width="3.6" stroke-linejoin="miter"/>
<path d="M310.2,637.3 L315.9,647.6 L304.4,647.6 Z" fill="#fff" stroke="#111" stroke-width="3.6" stroke-linejoin="miter"/>
<path d="M332.5,635.6 L338.3,646.0 L326.8,646.0 Z" fill="#fff" stroke="#111" stroke-width="3.6" stroke-linejoin="miter"/>
<path d="M354.8,632.3 L360.6,642.6 L349.1,642.6 Z" fill="#fff" stroke="#111" stroke-width="3.6" stroke-linejoin="miter"/>
<path d="M377.1,628.3 L382.9,638.6 L371.4,638.6 Z" fill="#fff" stroke="#111" stroke-width="3.6" stroke-linejoin="miter"/>
<path d="M399.4,625.6 L405.2,636.0 L393.7,636.0 Z" fill="#fff" stroke="#111" stroke-width="3.6" stroke-linejoin="miter"/>
<path d="M421.7,621.1 L427.5,631.5 L416.0,631.5 Z" fill="#fff" stroke="#111" stroke-width="3.6" stroke-linejoin="miter"/>
<path d="M444.0,614.9 L449.8,625.3 L438.3,625.3 Z" fill="#fff" stroke="#111" stroke-width="3.6" stroke-linejoin="miter"/>
<path d="M466.4,598.3 L472.1,608.6 L460.6,608.6 Z" fill="#fff" stroke="#111" stroke-width="3.6" stroke-linejoin="miter"/>
<path d="M488.7,580.6 L494.4,591.0 L482.9,591.0 Z" fill="#fff" stroke="#111" stroke-width="3.6" stroke-linejoin="miter"/>
<path d="M511.0,554.3 L516.7,564.7 L505.2,564.7 Z" fill="#fff" stroke="#111" stroke-width="3.6" stroke-linejoin="miter"/>
<path d="M533.3,530.6 L539.0,541.0 L527.5,541.0 Z" fill="#fff" stroke="#111" stroke-width="3.6" stroke-linejoin="miter"/>
<path d="M555.6,507.3 L561.3,517.7 L549.8,517.7 Z" fill="#fff" stroke="#111" stroke-width="3.6" stroke-linejoin="miter"/>
<path d="M577.9,470.7 L583.6,481.0 L572.1,481.0 Z" fill="#fff" stroke="#111" stroke-width="3.6" stroke-linejoin="miter"/>
<path d="M600.2,425.7 L606.0,436.0 L594.5,436.0 Z" fill="#fff" stroke="#111" stroke-width="3.6" stroke-linejoin="miter"/>
<path d="M622.5,384.0 L628.3,394.4 L616.8,394.4 Z" fill="#fff" stroke="#111" stroke-width="3.6" stroke-linejoin="miter"/>
<path d="M644.8,359.0 L650.6,369.4 L639.1,369.4 Z" fill="#fff" stroke="#111" stroke-width="3.6" stroke-linejoin="miter"/>
<path d="M667.1,343.9 L672.9,354.2 L661.4,354.2 Z" fill="#fff" stroke="#111" stroke-width="3.6" stroke-linejoin="miter"/>
<path d="M689.4,331.1 L695.2,341.4 L683.7,341.4 Z" fill="#fff" stroke="#111" stroke-width="3.6" stroke-linejoin="miter"/>
<path d="M711.8,321.6 L717.5,331.9 L706.0,331.9 Z" fill="#fff" stroke="#111" stroke-width="3.6" stroke-linejoin="miter"/>
<path d="M734.1,315.1 L739.8,325.4 L728.3,325.4 Z" fill="#fff" stroke="#111" stroke-width="3.6" stroke-linejoin="miter"/>
<path d="M756.4,307.6 L761.6,317.1 L751.1,317.1 Z" fill="#fff" stroke="#111" stroke-width="3.2" stroke-linejoin="miter"/>
<path d="M778.7,302.8 L783.9,312.2 L773.4,312.2 Z" fill="#fff" stroke="#111" stroke-width="3.2" stroke-linejoin="miter"/>
<path d="M801.0,299.6 L806.2,309.1 L795.7,309.1 Z" fill="#fff" stroke="#111" stroke-width="3.2" stroke-linejoin="miter"/>
<path d="M823.3,295.8 L828.5,305.2 L818.0,305.2 Z" fill="#fff" stroke="#111" stroke-width="3.2" stroke-linejoin="miter"/>
<path d="M845.6,293.1 L850.9,302.6 L840.4,302.6 Z" fill="#fff" stroke="#111" stroke-width="3.2" stroke-linejoin="miter"/>
<path d="M867.9,287.0 L873.2,296.4 L862.7,296.4 Z" fill="#fff" stroke="#111" stroke-width="3.2" stroke-linejoin="miter"/>
<path d="M243.3,646.3 L249.0,652.0 L243.3,657.8 L237.5,652.0 Z" fill="#fff" stroke="#111" stroke-width="4.0"/>
<path d="M265.6,644.6 L271.3,650.3 L265.6,656.1 L259.8,650.3 Z" fill="#fff" stroke="#111" stroke-width="4.0"/>
<path d="M287.9,642.1 L293.6,647.8 L287.9,653.6 L282.1,647.8 Z" fill="#fff" stroke="#111" stroke-width="4.0"/>
<path d="M310.2,637.9 L315.9,643.7 L310.2,649.4 L304.4,643.7 Z" fill="#fff" stroke="#111" stroke-width="4.0"/>
<path d="M332.5,636.3 L338.3,642.0 L332.5,647.8 L326.8,642.0 Z" fill="#fff" stroke="#111" stroke-width="4.0"/>
<path d="M354.8,632.9 L360.6,638.7 L354.8,644.4 L349.1,638.7 Z" fill="#fff" stroke="#111" stroke-width="4.0"/>
<path d="M377.1,628.9 L382.9,634.7 L377.1,640.4 L371.4,634.7 Z" fill="#fff" stroke="#111" stroke-width="4.0"/>
<path d="M399.4,626.3 L405.2,632.0 L399.4,637.8 L393.7,632.0 Z" fill="#fff" stroke="#111" stroke-width="4.0"/>
<path d="M421.7,621.8 L427.5,627.5 L421.7,633.3 L416.0,627.5 Z" fill="#fff" stroke="#111" stroke-width="4.0"/>
<path d="M444.0,615.6 L449.8,621.4 L444.0,627.1 L438.3,621.4 Z" fill="#fff" stroke="#111" stroke-width="4.0"/>
<path d="M466.4,598.9 L472.1,604.7 L466.4,610.4 L460.6,604.7 Z" fill="#fff" stroke="#111" stroke-width="4.0"/>
<circle cx="488.7" cy="573.2" r="6.6" fill="#111"/>
<path d="M511.0,537.1 L516.7,542.9 L511.0,548.6 L505.2,542.9 Z" fill="#fff" stroke="#111" stroke-width="4.0"/>
<path d="M533.3,526.5 L539.0,532.2 L533.3,538.0 L527.5,532.2 Z" fill="#fff" stroke="#111" stroke-width="4.0"/>
<circle cx="555.6" cy="511.6" r="6.6" fill="#111"/>
<circle cx="577.9" cy="473.1" r="6.6" fill="#111"/>
<circle cx="600.2" cy="428.1" r="6.6" fill="#111"/>
<circle cx="622.5" cy="384.8" r="6.6" fill="#111"/>
<circle cx="644.8" cy="350.5" r="6.6" fill="#111"/>
<circle cx="667.1" cy="329.5" r="6.6" fill="#111"/>
<circle cx="689.4" cy="311.8" r="6.6" fill="#111"/>
<circle cx="711.8" cy="299.0" r="6.6" fill="#111"/>
<circle cx="734.1" cy="289.5" r="6.6" fill="#111"/>
<path d="M756.4,274.6 L761.6,279.8 L756.4,285.1 L751.1,279.8 Z" fill="#fff" stroke="#111" stroke-width="3.6"/>
<path d="M778.7,266.6 L783.9,271.8 L778.7,277.1 L773.4,271.8 Z" fill="#fff" stroke="#111" stroke-width="3.6"/>
<path d="M801.0,261.1 L806.2,266.3 L801.0,271.6 L795.7,266.3 Z" fill="#fff" stroke="#111" stroke-width="3.6"/>
<path d="M823.3,255.3 L828.5,260.5 L823.3,265.8 L818.0,260.5 Z" fill="#fff" stroke="#111" stroke-width="3.6"/>
<path d="M845.6,250.4 L850.9,255.7 L845.6,260.9 L840.4,255.7 Z" fill="#fff" stroke="#111" stroke-width="3.6"/>
<path d="M867.9,243.6 L873.2,248.8 L867.9,254.1 L862.7,248.8 Z" fill="#fff" stroke="#111" stroke-width="3.6"/>
<path d="M243.3,640.9 L248.8,650.8 L237.8,650.8 Z" fill="#fff" stroke="#111" stroke-width="2.9" stroke-linejoin="miter"/>
<path d="M265.6,639.2 L271.1,649.1 L260.1,649.1 Z" fill="#fff" stroke="#111" stroke-width="2.9" stroke-linejoin="miter"/>
<path d="M287.9,637.5 L293.4,647.4 L282.4,647.4 Z" fill="#fff" stroke="#111" stroke-width="2.9" stroke-linejoin="miter"/>
<path d="M310.2,635.9 L315.7,645.8 L304.7,645.8 Z" fill="#fff" stroke="#111" stroke-width="2.9" stroke-linejoin="miter"/>
<path d="M332.5,632.5 L338.0,642.4 L327.0,642.4 Z" fill="#fff" stroke="#111" stroke-width="2.9" stroke-linejoin="miter"/>
<path d="M354.8,627.5 L360.3,637.4 L349.3,637.4 Z" fill="#fff" stroke="#111" stroke-width="2.9" stroke-linejoin="miter"/>
<path d="M377.1,605.9 L382.6,615.8 L371.6,615.8 Z" fill="#fff" stroke="#111" stroke-width="2.9" stroke-linejoin="miter"/>
<path d="M399.4,550.9 L404.9,560.8 L393.9,560.8 Z" fill="#fff" stroke="#111" stroke-width="2.9" stroke-linejoin="miter"/>
<path d="M421.7,497.6 L427.2,507.5 L416.2,507.5 Z" fill="#fff" stroke="#111" stroke-width="2.9" stroke-linejoin="miter"/>
<path d="M444.0,462.6 L449.5,472.5 L438.5,472.5 Z" fill="#fff" stroke="#111" stroke-width="2.9" stroke-linejoin="miter"/>
<path d="M466.4,462.6 L471.9,472.5 L460.9,472.5 Z" fill="#fff" stroke="#111" stroke-width="2.9" stroke-linejoin="miter"/>
<path d="M488.7,469.3 L494.2,479.2 L483.2,479.2 Z" fill="#fff" stroke="#111" stroke-width="2.9" stroke-linejoin="miter"/>
<path d="M511.0,437.6 L516.5,447.5 L505.5,447.5 Z" fill="#fff" stroke="#111" stroke-width="2.9" stroke-linejoin="miter"/>
<path d="M533.3,402.6 L538.8,412.5 L527.8,412.5 Z" fill="#fff" stroke="#111" stroke-width="2.9" stroke-linejoin="miter"/>
<path d="M555.6,355.0 L561.1,364.9 L550.1,364.9 Z" fill="#fff" stroke="#111" stroke-width="2.9" stroke-linejoin="miter"/>
<path d="M577.9,306.0 L583.4,315.9 L572.4,315.9 Z" fill="#fff" stroke="#111" stroke-width="2.9" stroke-linejoin="miter"/>
<path d="M600.2,262.4 L605.7,272.3 L594.7,272.3 Z" fill="#fff" stroke="#111" stroke-width="2.9" stroke-linejoin="miter"/>
<path d="M622.5,228.9 L628.0,238.8 L617.0,238.8 Z" fill="#fff" stroke="#111" stroke-width="2.9" stroke-linejoin="miter"/>
<path d="M644.8,199.2 L650.3,209.1 L639.3,209.1 Z" fill="#fff" stroke="#111" stroke-width="2.9" stroke-linejoin="miter"/>
<path d="M667.1,175.9 L672.6,185.8 L661.6,185.8 Z" fill="#fff" stroke="#111" stroke-width="2.9" stroke-linejoin="miter"/>
<path d="M689.4,158.2 L694.9,168.1 L683.9,168.1 Z" fill="#fff" stroke="#111" stroke-width="2.9" stroke-linejoin="miter"/>
<path d="M711.8,142.2 L717.3,152.1 L706.3,152.1 Z" fill="#fff" stroke="#111" stroke-width="2.9" stroke-linejoin="miter"/>
<path d="M734.1,128.7 L739.6,138.6 L728.6,138.6 Z" fill="#fff" stroke="#111" stroke-width="2.9" stroke-linejoin="miter"/>
<path d="M756.4,117.3 L761.9,127.2 L750.9,127.2 Z" fill="#fff" stroke="#111" stroke-width="2.9" stroke-linejoin="miter"/>
<path d="M778.7,106.9 L784.2,116.8 L773.2,116.8 Z" fill="#fff" stroke="#111" stroke-width="2.9" stroke-linejoin="miter"/>
<path d="M801.0,98.9 L806.5,108.8 L795.5,108.8 Z" fill="#fff" stroke="#111" stroke-width="2.9" stroke-linejoin="miter"/>
<path d="M823.3,93.4 L828.8,103.3 L817.8,103.3 Z" fill="#fff" stroke="#111" stroke-width="2.9" stroke-linejoin="miter"/>
<circle cx="243.3" cy="640.4" r="6.4" fill="#111"/>
<circle cx="265.6" cy="638.7" r="6.4" fill="#111"/>
<circle cx="287.9" cy="637.0" r="6.4" fill="#111"/>
<circle cx="310.2" cy="633.7" r="6.4" fill="#111"/>
<circle cx="332.5" cy="632.0" r="6.4" fill="#111"/>
<circle cx="354.8" cy="617.0" r="6.4" fill="#111"/>
<circle cx="377.1" cy="595.7" r="6.4" fill="#111"/>
<circle cx="399.4" cy="554.6" r="6.4" fill="#111"/>
<circle cx="421.7" cy="505.4" r="6.4" fill="#111"/>
<circle cx="444.0" cy="502.7" r="6.4" fill="#111"/>
<circle cx="466.4" cy="507.1" r="6.4" fill="#111"/>
<circle cx="488.7" cy="482.1" r="6.4" fill="#111"/>
<circle cx="511.0" cy="442.3" r="6.4" fill="#111"/>
<circle cx="533.3" cy="392.0" r="6.4" fill="#111"/>
<circle cx="555.6" cy="348.1" r="6.4" fill="#111"/>
<circle cx="577.9" cy="313.0" r="6.4" fill="#111"/>
<circle cx="600.2" cy="285.0" r="6.4" fill="#111"/>
<circle cx="622.5" cy="263.8" r="6.4" fill="#111"/>
<circle cx="644.8" cy="245.0" r="6.4" fill="#111"/>
<circle cx="667.1" cy="228.5" r="6.4" fill="#111"/>
<circle cx="689.4" cy="216.4" r="6.4" fill="#111"/>
<circle cx="711.8" cy="208.5" r="6.4" fill="#111"/>
<circle cx="734.1" cy="198.0" r="6.4" fill="#111"/>
<circle cx="756.4" cy="191.5" r="6.4" fill="#111"/>
<circle cx="778.7" cy="185.2" r="6.4" fill="#111"/>
<circle cx="801.0" cy="177.9" r="6.4" fill="#111"/>
<circle cx="823.3" cy="175.5" r="6.4" fill="#111"/>
<rect x="237.0" y="639.1" width="12.5" height="12.5" fill="#111"/>
<rect x="259.3" y="637.4" width="12.5" height="12.5" fill="#111"/>
<rect x="281.6" y="635.8" width="12.5" height="12.5" fill="#111"/>
<rect x="303.9" y="633.3" width="12.5" height="12.5" fill="#111"/>
<rect x="326.3" y="630.8" width="12.5" height="12.5" fill="#111"/>
<rect x="348.6" y="624.1" width="12.5" height="12.5" fill="#111"/>
<rect x="370.9" y="605.8" width="12.5" height="12.5" fill="#111"/>
<rect x="393.2" y="591.8" width="12.5" height="12.5" fill="#111"/>
<rect x="415.5" y="568.8" width="12.5" height="12.5" fill="#111"/>
<rect x="437.8" y="542.8" width="12.5" height="12.5" fill="#111"/>
<rect x="460.1" y="499.2" width="12.5" height="12.5" fill="#111"/>
<rect x="482.4" y="444.5" width="12.5" height="12.5" fill="#111"/>
<rect x="504.7" y="380.9" width="12.5" height="12.5" fill="#111"/>
<rect x="527.0" y="318.4" width="12.5" height="12.5" fill="#111"/>
<rect x="549.3" y="264.2" width="12.5" height="12.5" fill="#111"/>
<rect x="571.6" y="217.6" width="12.5" height="12.5" fill="#111"/>
<rect x="594.0" y="179.3" width="12.5" height="12.5" fill="#111"/>
<rect x="616.3" y="145.3" width="12.5" height="12.5" fill="#111"/>
<rect x="638.6" y="119.6" width="12.5" height="12.5" fill="#111"/>
<rect x="660.9" y="98.0" width="12.5" height="12.5" fill="#111"/>
<rect x="683.2" y="81.2" width="12.5" height="12.5" fill="#111"/>
<rect x="705.5" y="66.7" width="12.5" height="12.5" fill="#111"/>
<rect x="727.8" y="55.0" width="12.5" height="12.5" fill="#111"/>
<rect x="750.1" y="45.0" width="12.5" height="12.5" fill="#111"/>
<rect x="772.4" y="37.0" width="12.5" height="12.5" fill="#111"/>
<rect x="794.7" y="32.2" width="12.5" height="12.5" fill="#111"/>
<rect x="817.0" y="31.5" width="12.5" height="12.5" fill="#111"/>
<g fill="none" stroke="#111" stroke-linecap="round" stroke-linejoin="round">
<path d="M267.0,1557.6C271.9,1558.5 286.5,1562.8 296.3,1563.1C306.1,1563.5 315.9,1558.9 325.6,1559.8C335.4,1560.8 345.2,1567.6 355.0,1568.7C364.8,1569.8 374.5,1568.7 384.3,1566.5C394.1,1564.2 403.9,1558.4 413.7,1555.4C423.4,1552.5 433.2,1551.2 443.0,1548.8C452.8,1546.4 462.6,1543.3 472.3,1541.1C482.1,1538.9 491.9,1539.1 501.7,1535.6C511.4,1532.1 521.2,1530.0 531.0,1520.1C540.8,1510.2 550.6,1487.0 560.3,1476.0C570.1,1464.9 579.9,1459.4 589.7,1453.9C599.5,1448.4 609.2,1447.7 619.0,1442.9C628.8,1438.0 638.6,1434.3 648.4,1424.8C658.1,1415.2 667.9,1401.2 677.7,1385.5C687.5,1369.8 697.2,1348.4 707.0,1330.3C716.8,1312.3 726.6,1293.9 736.4,1277.4C746.1,1260.8 755.9,1244.5 765.7,1231.0C775.5,1217.6 785.3,1206.8 795.0,1196.8C804.8,1186.9 814.6,1178.3 824.4,1171.5C834.1,1164.6 843.9,1160.6 853.7,1155.6C863.5,1150.5 873.3,1145.5 883.0,1141.2C892.8,1136.9 902.6,1133.1 912.4,1129.8C922.2,1126.4 931.9,1124.0 941.7,1121.4C951.5,1118.8 961.3,1116.4 971.1,1114.1C980.8,1111.8 990.6,1109.4 1000.4,1107.5C1010.2,1105.6 1019.9,1103.9 1029.7,1102.6C1039.5,1101.3 1049.3,1100.6 1059.1,1099.5C1068.8,1098.5 1083.5,1096.9 1088.4,1096.4" stroke-width="2.3"/>
<path d="M267.0,1574.2C271.9,1572.3 286.5,1565.5 296.3,1563.1C306.1,1560.8 315.9,1560.2 325.6,1559.8C335.4,1559.5 345.2,1561.3 355.0,1560.9C364.8,1560.6 374.5,1558.9 384.3,1557.6C394.1,1556.3 403.9,1554.7 413.7,1553.2C423.4,1551.7 433.2,1550.8 443.0,1548.8C452.8,1546.8 462.6,1543.3 472.3,1541.1C482.1,1538.9 491.9,1539.1 501.7,1535.6C511.4,1532.1 521.2,1527.5 531.0,1520.1C540.8,1512.8 550.6,1499.9 560.3,1491.4C570.1,1483.0 579.9,1476.3 589.7,1469.4C599.5,1462.4 609.2,1456.9 619.0,1449.5C628.8,1442.1 638.6,1435.5 648.4,1424.8C658.1,1414.1 667.9,1401.2 677.7,1385.5C687.5,1369.8 697.2,1348.4 707.0,1330.3C716.8,1312.3 726.6,1293.9 736.4,1277.4C746.1,1260.8 755.9,1244.5 765.7,1231.0C775.5,1217.6 785.3,1206.8 795.0,1196.8C804.8,1186.9 814.6,1178.1 824.4,1171.2C834.1,1164.4 843.9,1160.6 853.7,1155.6C863.5,1150.6 873.3,1145.5 883.0,1141.2C892.8,1136.9 902.6,1133.2 912.4,1129.8C922.2,1126.3 931.9,1123.4 941.7,1120.7C951.5,1118.0 961.3,1117.7 971.1,1113.6C980.8,1109.6 990.6,1100.0 1000.4,1096.4C1010.2,1092.8 1019.9,1094.0 1029.7,1092.0C1039.5,1090.0 1049.3,1086.1 1059.1,1084.3C1068.8,1082.5 1083.5,1081.9 1088.4,1081.4" stroke-width="2.3"/>
<path d="M267.0,1557.6C271.9,1558.5 286.5,1562.8 296.3,1563.1C306.1,1563.5 315.9,1560.2 325.6,1559.8C335.4,1559.5 345.2,1560.9 355.0,1560.9C364.8,1560.9 374.5,1560.8 384.3,1559.8C394.1,1558.9 403.9,1557.3 413.7,1555.4C423.4,1553.6 433.2,1551.2 443.0,1548.8C452.8,1546.4 462.6,1543.3 472.3,1541.1C482.1,1538.9 491.9,1539.1 501.7,1535.6C511.4,1532.1 521.2,1525.3 531.0,1520.1C540.8,1515.0 550.6,1510.9 560.3,1504.7C570.1,1498.4 579.9,1490.7 589.7,1482.6C599.5,1474.5 609.2,1465.8 619.0,1456.1C628.8,1446.5 638.6,1436.6 648.4,1424.8C658.1,1413.0 667.9,1401.2 677.7,1385.5C687.5,1369.8 697.2,1348.4 707.0,1330.3C716.8,1312.3 726.6,1293.9 736.4,1277.4C746.1,1260.8 755.9,1244.5 765.7,1231.0C775.5,1217.6 785.3,1206.8 795.0,1196.8C804.8,1186.9 814.6,1178.3 824.4,1171.5C834.1,1164.6 843.9,1160.6 853.7,1155.6C863.5,1150.5 873.3,1145.5 883.0,1141.2C892.8,1136.9 902.6,1133.1 912.4,1129.8C922.2,1126.4 931.9,1124.0 941.7,1121.4C951.5,1118.8 961.3,1116.4 971.1,1114.1C980.8,1111.8 990.6,1109.4 1000.4,1107.5C1010.2,1105.6 1019.9,1103.9 1029.7,1102.6C1039.5,1101.3 1049.3,1100.6 1059.1,1099.5C1068.8,1098.5 1083.5,1096.9 1088.4,1096.4" stroke-width="2.3"/>
<path d="M267.0,1557.6C271.9,1558.4 286.5,1561.7 296.3,1562.0C306.1,1562.4 315.9,1560.0 325.6,1559.8C335.4,1559.6 345.2,1561.3 355.0,1560.9C364.8,1560.6 374.5,1558.9 384.3,1557.6C394.1,1556.3 403.9,1554.7 413.7,1553.2C423.4,1551.7 433.2,1550.8 443.0,1548.8C452.8,1546.8 462.6,1543.3 472.3,1541.1C482.1,1538.9 491.9,1538.0 501.7,1535.6C511.4,1533.2 521.2,1528.9 531.0,1526.7C540.8,1524.6 550.6,1527.2 560.3,1522.8C570.1,1518.3 579.9,1510.0 589.7,1500.3C599.5,1490.5 609.2,1476.6 619.0,1464.1C628.8,1451.6 638.6,1438.7 648.4,1425.2C658.1,1411.8 667.9,1400.6 677.7,1383.3C687.5,1366.0 697.2,1342.9 707.0,1321.5C716.8,1300.1 726.6,1273.7 736.4,1254.9C746.1,1236.0 755.9,1222.0 765.7,1208.5C775.5,1195.1 785.3,1184.6 795.0,1174.1C804.8,1163.6 814.6,1153.8 824.4,1145.4C834.1,1137.1 843.9,1130.2 853.7,1124.0C863.5,1117.8 873.3,1113.1 883.0,1108.3C892.8,1103.6 902.6,1099.4 912.4,1095.6C922.2,1091.7 931.9,1088.1 941.7,1085.0C951.5,1081.8 961.3,1079.2 971.1,1076.6C980.8,1073.9 990.6,1071.4 1000.4,1069.1C1010.2,1066.8 1019.9,1064.9 1029.7,1062.9C1039.5,1060.9 1049.3,1059.0 1059.1,1057.2C1068.8,1055.4 1083.5,1052.9 1088.4,1052.1" stroke-width="2.3"/>
</g>
<path d="M267.0,1552.1 L272.5,1557.6 L267.0,1563.1 L261.5,1557.6 Z" fill="#111" stroke="none" stroke-width="0"/>
<path d="M296.3,1557.6 L301.8,1563.1 L296.3,1568.6 L290.8,1563.1 Z" fill="#111" stroke="none" stroke-width="0"/>
<path d="M325.6,1554.3 L331.1,1559.8 L325.6,1565.3 L320.1,1559.8 Z" fill="#111" stroke="none" stroke-width="0"/>
<path d="M355.0,1563.2 L360.5,1568.7 L355.0,1574.2 L349.5,1568.7 Z" fill="#111" stroke="none" stroke-width="0"/>
<path d="M384.3,1561.0 L389.8,1566.5 L384.3,1572.0 L378.8,1566.5 Z" fill="#111" stroke="none" stroke-width="0"/>
<path d="M413.7,1549.9 L419.2,1555.4 L413.7,1560.9 L408.2,1555.4 Z" fill="#111" stroke="none" stroke-width="0"/>
<path d="M443.0,1543.3 L448.5,1548.8 L443.0,1554.3 L437.5,1548.8 Z" fill="#111" stroke="none" stroke-width="0"/>
<path d="M472.3,1535.6 L477.8,1541.1 L472.3,1546.6 L466.8,1541.1 Z" fill="#111" stroke="none" stroke-width="0"/>
<path d="M501.7,1530.1 L507.2,1535.6 L501.7,1541.1 L496.2,1535.6 Z" fill="#111" stroke="none" stroke-width="0"/>
<path d="M531.0,1514.6 L536.5,1520.1 L531.0,1525.6 L525.5,1520.1 Z" fill="#111" stroke="none" stroke-width="0"/>
<path d="M560.3,1470.5 L565.8,1476.0 L560.3,1481.5 L554.8,1476.0 Z" fill="#111" stroke="none" stroke-width="0"/>
<path d="M589.7,1448.4 L595.2,1453.9 L589.7,1459.4 L584.2,1453.9 Z" fill="#111" stroke="none" stroke-width="0"/>
<path d="M619.0,1437.4 L624.5,1442.9 L619.0,1448.4 L613.5,1442.9 Z" fill="#111" stroke="none" stroke-width="0"/>
<path d="M648.4,1419.3 L653.9,1424.8 L648.4,1430.3 L642.9,1424.8 Z" fill="#111" stroke="none" stroke-width="0"/>
<path d="M677.7,1380.0 L683.2,1385.5 L677.7,1391.0 L672.2,1385.5 Z" fill="#111" stroke="none" stroke-width="0"/>
<path d="M707.0,1324.8 L712.5,1330.3 L707.0,1335.8 L701.5,1330.3 Z" fill="#111" stroke="none" stroke-width="0"/>
<path d="M736.4,1271.9 L741.9,1277.4 L736.4,1282.9 L730.9,1277.4 Z" fill="#111" stroke="none" stroke-width="0"/>
<path d="M765.7,1225.5 L771.2,1231.0 L765.7,1236.5 L760.2,1231.0 Z" fill="#111" stroke="none" stroke-width="0"/>
<path d="M795.0,1191.3 L800.5,1196.8 L795.0,1202.3 L789.5,1196.8 Z" fill="#111" stroke="none" stroke-width="0"/>
<path d="M824.4,1166.0 L829.9,1171.5 L824.4,1177.0 L818.9,1171.5 Z" fill="#111" stroke="none" stroke-width="0"/>
<path d="M853.7,1150.1 L859.2,1155.6 L853.7,1161.1 L848.2,1155.6 Z" fill="#111" stroke="none" stroke-width="0"/>
<path d="M883.0,1135.7 L888.5,1141.2 L883.0,1146.7 L877.5,1141.2 Z" fill="#111" stroke="none" stroke-width="0"/>
<path d="M912.4,1124.3 L917.9,1129.8 L912.4,1135.3 L906.9,1129.8 Z" fill="#111" stroke="none" stroke-width="0"/>
<path d="M941.7,1115.9 L947.2,1121.4 L941.7,1126.9 L936.2,1121.4 Z" fill="#111" stroke="none" stroke-width="0"/>
<path d="M971.1,1108.6 L976.6,1114.1 L971.1,1119.6 L965.6,1114.1 Z" fill="#111" stroke="none" stroke-width="0"/>
<path d="M1000.4,1102.0 L1005.9,1107.5 L1000.4,1113.0 L994.9,1107.5 Z" fill="#111" stroke="none" stroke-width="0"/>
<path d="M1029.7,1097.1 L1035.2,1102.6 L1029.7,1108.1 L1024.2,1102.6 Z" fill="#111" stroke="none" stroke-width="0"/>
<path d="M1059.1,1094.0 L1064.6,1099.5 L1059.1,1105.0 L1053.6,1099.5 Z" fill="#111" stroke="none" stroke-width="0"/>
<path d="M1088.4,1090.9 L1093.9,1096.4 L1088.4,1101.9 L1082.9,1096.4 Z" fill="#111" stroke="none" stroke-width="0"/>
<path d="M267.0,1552.0 L272.0,1561.0 L262.0,1561.0 Z" fill="#fff" stroke="#111" stroke-width="2.3" stroke-linejoin="miter"/>
<path d="M296.3,1557.6 L301.3,1566.6 L291.3,1566.6 Z" fill="#fff" stroke="#111" stroke-width="2.3" stroke-linejoin="miter"/>
<path d="M325.6,1554.3 L330.6,1563.3 L320.6,1563.3 Z" fill="#fff" stroke="#111" stroke-width="2.3" stroke-linejoin="miter"/>
<path d="M355.0,1555.4 L360.0,1564.4 L350.0,1564.4 Z" fill="#fff" stroke="#111" stroke-width="2.3" stroke-linejoin="miter"/>
<path d="M384.3,1554.3 L389.3,1563.3 L379.3,1563.3 Z" fill="#fff" stroke="#111" stroke-width="2.3" stroke-linejoin="miter"/>
<path d="M413.7,1549.8 L418.7,1558.8 L408.7,1558.8 Z" fill="#fff" stroke="#111" stroke-width="2.3" stroke-linejoin="miter"/>
<path d="M443.0,1543.2 L448.0,1552.2 L438.0,1552.2 Z" fill="#fff" stroke="#111" stroke-width="2.3" stroke-linejoin="miter"/>
<path d="M472.3,1535.5 L477.3,1544.5 L467.3,1544.5 Z" fill="#fff" stroke="#111" stroke-width="2.3" stroke-linejoin="miter"/>
<path d="M501.7,1530.0 L506.7,1539.0 L496.7,1539.0 Z" fill="#fff" stroke="#111" stroke-width="2.3" stroke-linejoin="miter"/>
<path d="M531.0,1514.5 L536.0,1523.5 L526.0,1523.5 Z" fill="#fff" stroke="#111" stroke-width="2.3" stroke-linejoin="miter"/>
<path d="M560.3,1499.1 L565.3,1508.1 L555.3,1508.1 Z" fill="#fff" stroke="#111" stroke-width="2.3" stroke-linejoin="miter"/>
<path d="M589.7,1477.0 L594.7,1486.0 L584.7,1486.0 Z" fill="#fff" stroke="#111" stroke-width="2.3" stroke-linejoin="miter"/>
<path d="M619.0,1450.5 L624.0,1459.5 L614.0,1459.5 Z" fill="#fff" stroke="#111" stroke-width="2.3" stroke-linejoin="miter"/>
<path d="M648.4,1419.2 L653.4,1428.2 L643.4,1428.2 Z" fill="#fff" stroke="#111" stroke-width="2.3" stroke-linejoin="miter"/>
<path d="M677.7,1379.9 L682.7,1388.9 L672.7,1388.9 Z" fill="#fff" stroke="#111" stroke-width="2.3" stroke-linejoin="miter"/>
<path d="M707.0,1324.8 L712.0,1333.8 L702.0,1333.8 Z" fill="#fff" stroke="#111" stroke-width="2.3" stroke-linejoin="miter"/>
<path d="M736.4,1271.8 L741.4,1280.8 L731.4,1280.8 Z" fill="#fff" stroke="#111" stroke-width="2.3" stroke-linejoin="miter"/>
<path d="M765.7,1225.5 L770.7,1234.5 L760.7,1234.5 Z" fill="#fff" stroke="#111" stroke-width="2.3" stroke-linejoin="miter"/>
<path d="M795.0,1191.3 L800.0,1200.3 L790.0,1200.3 Z" fill="#fff" stroke="#111" stroke-width="2.3" stroke-linejoin="miter"/>
<path d="M824.4,1165.9 L829.4,1174.9 L819.4,1174.9 Z" fill="#fff" stroke="#111" stroke-width="2.3" stroke-linejoin="miter"/>
<path d="M853.7,1150.0 L858.7,1159.0 L848.7,1159.0 Z" fill="#fff" stroke="#111" stroke-width="2.3" stroke-linejoin="miter"/>
<path d="M883.0,1135.6 L888.0,1144.6 L878.0,1144.6 Z" fill="#fff" stroke="#111" stroke-width="2.3" stroke-linejoin="miter"/>
<path d="M912.4,1124.2 L917.4,1133.2 L907.4,1133.2 Z" fill="#fff" stroke="#111" stroke-width="2.3" stroke-linejoin="miter"/>
<path d="M941.7,1115.8 L946.7,1124.8 L936.7,1124.8 Z" fill="#fff" stroke="#111" stroke-width="2.3" stroke-linejoin="miter"/>
<path d="M971.1,1108.5 L976.1,1117.5 L966.1,1117.5 Z" fill="#fff" stroke="#111" stroke-width="2.3" stroke-linejoin="miter"/>
<path d="M1000.4,1101.9 L1005.4,1110.9 L995.4,1110.9 Z" fill="#fff" stroke="#111" stroke-width="2.3" stroke-linejoin="miter"/>
<path d="M1029.7,1097.0 L1034.7,1106.0 L1024.7,1106.0 Z" fill="#fff" stroke="#111" stroke-width="2.3" stroke-linejoin="miter"/>
<path d="M1059.1,1093.9 L1064.1,1102.9 L1054.1,1102.9 Z" fill="#fff" stroke="#111" stroke-width="2.3" stroke-linejoin="miter"/>
<path d="M1088.4,1090.9 L1093.4,1099.9 L1083.4,1099.9 Z" fill="#fff" stroke="#111" stroke-width="2.3" stroke-linejoin="miter"/>
<rect x="263.0" y="1570.2" width="8.0" height="8.0" fill="#fff" stroke="#111" stroke-width="2.3"/>
<rect x="292.3" y="1559.1" width="8.0" height="8.0" fill="#fff" stroke="#111" stroke-width="2.3"/>
<rect x="321.6" y="1555.8" width="8.0" height="8.0" fill="#fff" stroke="#111" stroke-width="2.3"/>
<rect x="351.0" y="1556.9" width="8.0" height="8.0" fill="#fff" stroke="#111" stroke-width="2.3"/>
<rect x="380.3" y="1553.6" width="8.0" height="8.0" fill="#fff" stroke="#111" stroke-width="2.3"/>
<rect x="409.7" y="1549.2" width="8.0" height="8.0" fill="#fff" stroke="#111" stroke-width="2.3"/>
<rect x="439.0" y="1544.8" width="8.0" height="8.0" fill="#fff" stroke="#111" stroke-width="2.3"/>
<rect x="468.3" y="1537.1" width="8.0" height="8.0" fill="#fff" stroke="#111" stroke-width="2.3"/>
<rect x="497.7" y="1531.6" width="8.0" height="8.0" fill="#fff" stroke="#111" stroke-width="2.3"/>
<rect x="527.0" y="1516.1" width="8.0" height="8.0" fill="#fff" stroke="#111" stroke-width="2.3"/>
<rect x="556.3" y="1487.4" width="8.0" height="8.0" fill="#fff" stroke="#111" stroke-width="2.3"/>
<rect x="585.7" y="1465.4" width="8.0" height="8.0" fill="#fff" stroke="#111" stroke-width="2.3"/>
<rect x="615.0" y="1445.5" width="8.0" height="8.0" fill="#fff" stroke="#111" stroke-width="2.3"/>
<rect x="644.4" y="1420.8" width="8.0" height="8.0" fill="#fff" stroke="#111" stroke-width="2.3"/>
<rect x="673.7" y="1381.5" width="8.0" height="8.0" fill="#fff" stroke="#111" stroke-width="2.3"/>
<rect x="703.0" y="1326.3" width="8.0" height="8.0" fill="#fff" stroke="#111" stroke-width="2.3"/>
<rect x="732.4" y="1273.4" width="8.0" height="8.0" fill="#fff" stroke="#111" stroke-width="2.3"/>
<rect x="761.7" y="1227.0" width="8.0" height="8.0" fill="#fff" stroke="#111" stroke-width="2.3"/>
<rect x="791.0" y="1192.8" width="8.0" height="8.0" fill="#fff" stroke="#111" stroke-width="2.3"/>
<rect x="820.4" y="1167.2" width="8.0" height="8.0" fill="#fff" stroke="#111" stroke-width="2.3"/>
<rect x="849.7" y="1151.6" width="8.0" height="8.0" fill="#fff" stroke="#111" stroke-width="2.3"/>
<rect x="879.0" y="1137.2" width="8.0" height="8.0" fill="#fff" stroke="#111" stroke-width="2.3"/>
<rect x="908.4" y="1125.8" width="8.0" height="8.0" fill="#fff" stroke="#111" stroke-width="2.3"/>
<rect x="937.7" y="1116.7" width="8.0" height="8.0" fill="#fff" stroke="#111" stroke-width="2.3"/>
<rect x="967.1" y="1109.6" width="8.0" height="8.0" fill="#fff" stroke="#111" stroke-width="2.3"/>
<rect x="996.4" y="1092.4" width="8.0" height="8.0" fill="#fff" stroke="#111" stroke-width="2.3"/>
<rect x="1025.7" y="1088.0" width="8.0" height="8.0" fill="#fff" stroke="#111" stroke-width="2.3"/>
<rect x="1055.1" y="1080.3" width="8.0" height="8.0" fill="#fff" stroke="#111" stroke-width="2.3"/>
<rect x="1084.4" y="1077.4" width="8.0" height="8.0" fill="#fff" stroke="#111" stroke-width="2.3"/>
<path d="M262.5,1553.1 L271.5,1562.1 M271.5,1553.1 L262.5,1562.1" stroke="#111" stroke-width="2.4" fill="none"/>
<path d="M291.8,1557.5 L300.8,1566.5 M300.8,1557.5 L291.8,1566.5" stroke="#111" stroke-width="2.4" fill="none"/>
<path d="M321.1,1555.3 L330.1,1564.3 M330.1,1555.3 L321.1,1564.3" stroke="#111" stroke-width="2.4" fill="none"/>
<path d="M350.5,1556.4 L359.5,1565.4 M359.5,1556.4 L350.5,1565.4" stroke="#111" stroke-width="2.4" fill="none"/>
<path d="M379.8,1553.1 L388.8,1562.1 M388.8,1553.1 L379.8,1562.1" stroke="#111" stroke-width="2.4" fill="none"/>
<path d="M409.2,1548.7 L418.2,1557.7 M418.2,1548.7 L409.2,1557.7" stroke="#111" stroke-width="2.4" fill="none"/>
<path d="M438.5,1544.3 L447.5,1553.3 M447.5,1544.3 L438.5,1553.3" stroke="#111" stroke-width="2.4" fill="none"/>
<path d="M467.8,1536.6 L476.8,1545.6 M476.8,1536.6 L467.8,1545.6" stroke="#111" stroke-width="2.4" fill="none"/>
<path d="M497.2,1531.1 L506.2,1540.1 M506.2,1531.1 L497.2,1540.1" stroke="#111" stroke-width="2.4" fill="none"/>
<path d="M526.5,1522.2 L535.5,1531.2 M535.5,1522.2 L526.5,1531.2" stroke="#111" stroke-width="2.4" fill="none"/>
<path d="M555.8,1518.3 L564.8,1527.3 M564.8,1518.3 L555.8,1527.3" stroke="#111" stroke-width="2.4" fill="none"/>
<path d="M585.2,1495.8 L594.2,1504.8 M594.2,1495.8 L585.2,1504.8" stroke="#111" stroke-width="2.4" fill="none"/>
<path d="M614.5,1459.6 L623.5,1468.6 M623.5,1459.6 L614.5,1468.6" stroke="#111" stroke-width="2.4" fill="none"/>
<path d="M643.9,1420.7 L652.9,1429.7 M652.9,1420.7 L643.9,1429.7" stroke="#111" stroke-width="2.4" fill="none"/>
<path d="M673.2,1378.8 L682.2,1387.8 M682.2,1378.8 L673.2,1387.8" stroke="#111" stroke-width="2.4" fill="none"/>
<path d="M702.5,1317.0 L711.5,1326.0 M711.5,1317.0 L702.5,1326.0" stroke="#111" stroke-width="2.4" fill="none"/>
<path d="M731.9,1250.4 L740.9,1259.4 M740.9,1250.4 L731.9,1259.4" stroke="#111" stroke-width="2.4" fill="none"/>
<path d="M761.2,1204.0 L770.2,1213.0 M770.2,1204.0 L761.2,1213.0" stroke="#111" stroke-width="2.4" fill="none"/>
<path d="M790.5,1169.6 L799.5,1178.6 M799.5,1169.6 L790.5,1178.6" stroke="#111" stroke-width="2.4" fill="none"/>
<path d="M819.9,1140.9 L828.9,1149.9 M828.9,1140.9 L819.9,1149.9" stroke="#111" stroke-width="2.4" fill="none"/>
<path d="M849.2,1119.5 L858.2,1128.5 M858.2,1119.5 L849.2,1128.5" stroke="#111" stroke-width="2.4" fill="none"/>
<path d="M878.5,1103.8 L887.5,1112.8 M887.5,1103.8 L878.5,1112.8" stroke="#111" stroke-width="2.4" fill="none"/>
<path d="M907.9,1091.1 L916.9,1100.1 M916.9,1091.1 L907.9,1100.1" stroke="#111" stroke-width="2.4" fill="none"/>
<path d="M937.2,1080.5 L946.2,1089.5 M946.2,1080.5 L937.2,1089.5" stroke="#111" stroke-width="2.4" fill="none"/>
<path d="M966.6,1072.1 L975.6,1081.1 M975.6,1072.1 L966.6,1081.1" stroke="#111" stroke-width="2.4" fill="none"/>
<path d="M995.9,1064.6 L1004.9,1073.6 M1004.9,1064.6 L995.9,1073.6" stroke="#111" stroke-width="2.4" fill="none"/>
<path d="M1025.2,1058.4 L1034.2,1067.4 M1034.2,1058.4 L1025.2,1067.4" stroke="#111" stroke-width="2.4" fill="none"/>
<path d="M1054.6,1052.7 L1063.6,1061.7 M1063.6,1052.7 L1054.6,1061.7" stroke="#111" stroke-width="2.4" fill="none"/>
<path d="M1083.9,1047.6 L1092.9,1056.6 M1092.9,1047.6 L1083.9,1056.6" stroke="#111" stroke-width="2.4" fill="none"/>
<path d="M867.5,1308.7 L874.0,1315.2 L867.5,1321.7 L861.0,1315.2 Z" fill="#111" stroke="none" stroke-width="0"/>
<rect x="862.2" y="1383.5" width="10.5" height="10.5" fill="#777" stroke="#222" stroke-width="2.4"/>
<path d="M867.5,1457.6 L873.2,1467.9 L861.8,1467.9 Z" fill="#fff" stroke="#111" stroke-width="2.8" stroke-linejoin="miter"/>
<path d="M862.5,1533.0 L872.5,1543.0 M872.5,1533.0 L862.5,1543.0" stroke="#111" stroke-width="3.4" fill="none"/>
<g transform="translate(98.48,535.33) scale(0.970,1)" fill="#fff"><rect x="2.08" y="-4.40" width="9.46" height="6.60"/><rect x="17.72" y="-4.40" width="8.89" height="6.60"/></g>
<g transform="translate(98.48,452.03) scale(0.970,1)" fill="#fff"><rect x="2.08" y="-4.40" width="9.46" height="6.60"/><rect x="17.72" y="-4.40" width="8.89" height="6.60"/></g>
<g transform="translate(271.15,767.98) scale(0.960,1)" fill="#fff"><rect x="18.15" y="-4.32" width="9.28" height="6.52"/><rect x="33.51" y="-4.32" width="8.72" height="6.52"/></g>
<g transform="translate(382.70,767.98) scale(0.960,1)" fill="#fff"><rect x="18.15" y="-4.32" width="9.28" height="6.52"/><rect x="33.51" y="-4.32" width="8.72" height="6.52"/></g>
<g transform="translate(835.62,767.98) scale(0.960,1)" fill="#fff"><rect x="2.02" y="-4.32" width="9.28" height="6.52"/><rect x="17.38" y="-4.32" width="8.72" height="6.52"/></g>
<g transform="translate(947.17,767.98) scale(0.960,1)" fill="#fff"><rect x="2.02" y="-4.32" width="9.28" height="6.52"/><rect x="17.38" y="-4.32" width="8.72" height="6.52"/></g>
<g transform="translate(100.81,1410.88) scale(0.990,1)" fill="#fff"><rect x="2.05" y="-4.36" width="9.37" height="6.56"/><rect x="17.55" y="-4.36" width="8.81" height="6.56"/></g>
<g transform="translate(100.81,1300.55) scale(0.990,1)" fill="#fff"><rect x="2.05" y="-4.36" width="9.37" height="6.56"/><rect x="17.55" y="-4.36" width="8.81" height="6.56"/></g>
<g transform="translate(311.18,1699.90)" fill="#fff"><rect x="18.76" y="-4.44" width="9.56" height="6.64"/><rect x="34.53" y="-4.44" width="8.97" height="6.64"/></g>
<g transform="translate(457.87,1699.90)" fill="#fff"><rect x="18.76" y="-4.44" width="9.56" height="6.64"/><rect x="34.53" y="-4.44" width="8.97" height="6.64"/></g>
<g transform="translate(1051.85,1699.90)" fill="#fff"><rect x="2.12" y="-4.44" width="9.56" height="6.64"/><rect x="17.89" y="-4.44" width="8.97" height="6.64"/></g>
<g transform="translate(879.36,239.70)" fill="#fff"><rect x="0.96" y="-3.17" width="6.44" height="5.37"/><rect x="12.11" y="-3.17" width="6.13" height="5.37"/></g>
<g transform="translate(879.36,350.00)" fill="#fff"><rect x="0.96" y="-3.17" width="6.44" height="5.37"/><rect x="12.11" y="-3.17" width="6.13" height="5.37"/><rect x="105.89" y="-3.17" width="6.44" height="5.37"/><rect x="117.05" y="-3.17" width="6.13" height="5.37"/></g>
<g transform="translate(878.66,390.00)" fill="#fff"><rect x="77.36" y="-3.17" width="6.44" height="5.37"/><rect x="88.52" y="-3.17" width="6.13" height="5.37"/><rect x="104.88" y="-3.17" width="6.44" height="5.37"/><rect x="116.04" y="-3.17" width="6.13" height="5.37"/></g>
<g transform="translate(906.79,1326.40) scale(1.075,1)" fill="#fff"><rect x="1.09" y="-3.31" width="6.81" height="5.51"/><rect x="12.79" y="-3.31" width="6.46" height="5.51"/></g>
<g transform="translate(906.79,1400.20) scale(1.075,1)" fill="#fff"><rect x="1.09" y="-3.31" width="6.81" height="5.51"/><rect x="12.79" y="-3.31" width="6.46" height="5.51"/></g>
<g transform="translate(906.79,1474.30) scale(1.075,1)" fill="#fff"><rect x="1.09" y="-3.31" width="6.81" height="5.51"/><rect x="12.79" y="-3.31" width="6.46" height="5.51"/></g>
</g>
</svg>
</body></html>
